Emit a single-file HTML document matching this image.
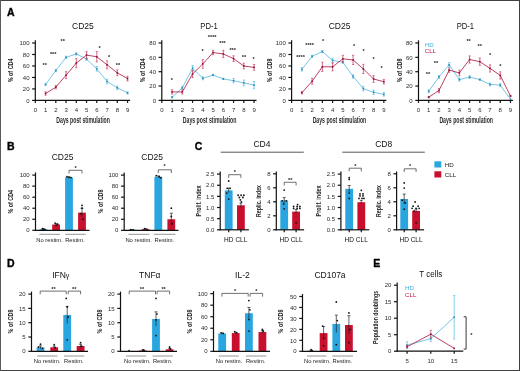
<!DOCTYPE html>
<html><head><meta charset="utf-8"><style>
html,body{margin:0;padding:0;background:#fff;}
body{width:520px;height:371px;overflow:hidden;}
svg{display:block;font-family:"Liberation Sans",sans-serif;filter:blur(0.35px);}
</style></head><body>
<svg width="520" height="371" viewBox="0 0 520 371">
<rect x="0" y="0" width="520" height="371" fill="#fff"/>
<line x1="35.30" y1="100.90" x2="35.30" y2="40.30" stroke="#111" stroke-width="1.2"/>
<line x1="32.10" y1="100.40" x2="35.30" y2="100.40" stroke="#111" stroke-width="1.2"/>
<text x="29.50" y="102.56" font-size="6" text-anchor="end" fill="#2a2a2a" font-weight="normal" >0</text>
<line x1="32.10" y1="88.92" x2="35.30" y2="88.92" stroke="#111" stroke-width="1.2"/>
<text x="29.50" y="91.08" font-size="6" text-anchor="end" fill="#2a2a2a" font-weight="normal" >20</text>
<line x1="32.10" y1="77.44" x2="35.30" y2="77.44" stroke="#111" stroke-width="1.2"/>
<text x="29.50" y="79.60" font-size="6" text-anchor="end" fill="#2a2a2a" font-weight="normal" >40</text>
<line x1="32.10" y1="65.96" x2="35.30" y2="65.96" stroke="#111" stroke-width="1.2"/>
<text x="29.50" y="68.12" font-size="6" text-anchor="end" fill="#2a2a2a" font-weight="normal" >60</text>
<line x1="32.10" y1="54.48" x2="35.30" y2="54.48" stroke="#111" stroke-width="1.2"/>
<text x="29.50" y="56.64" font-size="6" text-anchor="end" fill="#2a2a2a" font-weight="normal" >80</text>
<line x1="32.10" y1="43.00" x2="35.30" y2="43.00" stroke="#111" stroke-width="1.2"/>
<text x="29.50" y="45.16" font-size="6" text-anchor="end" fill="#2a2a2a" font-weight="normal" >100</text>
<line x1="34.80" y1="100.40" x2="130.05" y2="100.40" stroke="#111" stroke-width="1.2"/>
<line x1="35.30" y1="100.40" x2="35.30" y2="102.90" stroke="#111" stroke-width="1.2"/>
<text x="35.30" y="111.90" font-size="6" text-anchor="middle" fill="#2a2a2a" font-weight="normal" >0</text>
<line x1="45.55" y1="100.40" x2="45.55" y2="102.90" stroke="#111" stroke-width="1.2"/>
<text x="45.55" y="111.90" font-size="6" text-anchor="middle" fill="#2a2a2a" font-weight="normal" >1</text>
<line x1="55.80" y1="100.40" x2="55.80" y2="102.90" stroke="#111" stroke-width="1.2"/>
<text x="55.80" y="111.90" font-size="6" text-anchor="middle" fill="#2a2a2a" font-weight="normal" >2</text>
<line x1="66.05" y1="100.40" x2="66.05" y2="102.90" stroke="#111" stroke-width="1.2"/>
<text x="66.05" y="111.90" font-size="6" text-anchor="middle" fill="#2a2a2a" font-weight="normal" >3</text>
<line x1="76.30" y1="100.40" x2="76.30" y2="102.90" stroke="#111" stroke-width="1.2"/>
<text x="76.30" y="111.90" font-size="6" text-anchor="middle" fill="#2a2a2a" font-weight="normal" >4</text>
<line x1="86.55" y1="100.40" x2="86.55" y2="102.90" stroke="#111" stroke-width="1.2"/>
<text x="86.55" y="111.90" font-size="6" text-anchor="middle" fill="#2a2a2a" font-weight="normal" >5</text>
<line x1="96.80" y1="100.40" x2="96.80" y2="102.90" stroke="#111" stroke-width="1.2"/>
<text x="96.80" y="111.90" font-size="6" text-anchor="middle" fill="#2a2a2a" font-weight="normal" >6</text>
<line x1="107.05" y1="100.40" x2="107.05" y2="102.90" stroke="#111" stroke-width="1.2"/>
<text x="107.05" y="111.90" font-size="6" text-anchor="middle" fill="#2a2a2a" font-weight="normal" >7</text>
<line x1="117.30" y1="100.40" x2="117.30" y2="102.90" stroke="#111" stroke-width="1.2"/>
<text x="117.30" y="111.90" font-size="6" text-anchor="middle" fill="#2a2a2a" font-weight="normal" >8</text>
<line x1="127.55" y1="100.40" x2="127.55" y2="102.90" stroke="#111" stroke-width="1.2"/>
<text x="127.55" y="111.90" font-size="6" text-anchor="middle" fill="#2a2a2a" font-weight="normal" >9</text>
<line x1="45.55" y1="83.35" x2="45.55" y2="85.65" stroke="#5BBCE4" stroke-width="0.8"/>
<line x1="44.45" y1="83.35" x2="46.65" y2="83.35" stroke="#5BBCE4" stroke-width="0.7"/>
<line x1="44.45" y1="85.65" x2="46.65" y2="85.65" stroke="#5BBCE4" stroke-width="0.7"/>
<line x1="55.80" y1="69.40" x2="55.80" y2="71.70" stroke="#5BBCE4" stroke-width="0.8"/>
<line x1="54.70" y1="69.40" x2="56.90" y2="69.40" stroke="#5BBCE4" stroke-width="0.7"/>
<line x1="54.70" y1="71.70" x2="56.90" y2="71.70" stroke="#5BBCE4" stroke-width="0.7"/>
<line x1="66.05" y1="56.20" x2="66.05" y2="58.50" stroke="#5BBCE4" stroke-width="0.8"/>
<line x1="64.95" y1="56.20" x2="67.15" y2="56.20" stroke="#5BBCE4" stroke-width="0.7"/>
<line x1="64.95" y1="58.50" x2="67.15" y2="58.50" stroke="#5BBCE4" stroke-width="0.7"/>
<line x1="76.30" y1="52.76" x2="76.30" y2="55.05" stroke="#5BBCE4" stroke-width="0.8"/>
<line x1="75.20" y1="52.76" x2="77.40" y2="52.76" stroke="#5BBCE4" stroke-width="0.7"/>
<line x1="75.20" y1="55.05" x2="77.40" y2="55.05" stroke="#5BBCE4" stroke-width="0.7"/>
<line x1="86.55" y1="57.92" x2="86.55" y2="60.22" stroke="#5BBCE4" stroke-width="0.8"/>
<line x1="85.45" y1="57.92" x2="87.65" y2="57.92" stroke="#5BBCE4" stroke-width="0.7"/>
<line x1="85.45" y1="60.22" x2="87.65" y2="60.22" stroke="#5BBCE4" stroke-width="0.7"/>
<line x1="96.80" y1="66.53" x2="96.80" y2="71.13" stroke="#5BBCE4" stroke-width="0.8"/>
<line x1="95.70" y1="66.53" x2="97.90" y2="66.53" stroke="#5BBCE4" stroke-width="0.7"/>
<line x1="95.70" y1="71.13" x2="97.90" y2="71.13" stroke="#5BBCE4" stroke-width="0.7"/>
<line x1="107.05" y1="79.16" x2="107.05" y2="83.75" stroke="#5BBCE4" stroke-width="0.8"/>
<line x1="105.95" y1="79.16" x2="108.15" y2="79.16" stroke="#5BBCE4" stroke-width="0.7"/>
<line x1="105.95" y1="83.75" x2="108.15" y2="83.75" stroke="#5BBCE4" stroke-width="0.7"/>
<line x1="117.30" y1="86.05" x2="117.30" y2="89.49" stroke="#5BBCE4" stroke-width="0.8"/>
<line x1="116.20" y1="86.05" x2="118.40" y2="86.05" stroke="#5BBCE4" stroke-width="0.7"/>
<line x1="116.20" y1="89.49" x2="118.40" y2="89.49" stroke="#5BBCE4" stroke-width="0.7"/>
<line x1="127.55" y1="91.79" x2="127.55" y2="94.09" stroke="#5BBCE4" stroke-width="0.8"/>
<line x1="126.45" y1="91.79" x2="128.65" y2="91.79" stroke="#5BBCE4" stroke-width="0.7"/>
<line x1="126.45" y1="94.09" x2="128.65" y2="94.09" stroke="#5BBCE4" stroke-width="0.7"/>
<polyline points="45.55,84.50 55.80,70.55 66.05,57.35 76.30,53.91 86.55,59.07 96.80,68.83 107.05,81.46 117.30,87.77 127.55,92.94" fill="none" stroke="#5DBCE0" stroke-width="0.85"/>
<rect x="44.75" y="83.70" width="1.60" height="1.60" fill="#2E88AE"/>
<rect x="55.00" y="69.75" width="1.60" height="1.60" fill="#2E88AE"/>
<rect x="65.25" y="56.55" width="1.60" height="1.60" fill="#2E88AE"/>
<rect x="75.50" y="53.11" width="1.60" height="1.60" fill="#2E88AE"/>
<rect x="85.75" y="58.27" width="1.60" height="1.60" fill="#2E88AE"/>
<rect x="96.00" y="68.03" width="1.60" height="1.60" fill="#2E88AE"/>
<rect x="106.25" y="80.66" width="1.60" height="1.60" fill="#2E88AE"/>
<rect x="116.50" y="86.97" width="1.60" height="1.60" fill="#2E88AE"/>
<rect x="126.75" y="92.14" width="1.60" height="1.60" fill="#2E88AE"/>
<line x1="45.55" y1="91.79" x2="45.55" y2="95.23" stroke="#CC4467" stroke-width="0.8"/>
<line x1="44.45" y1="91.79" x2="46.65" y2="91.79" stroke="#CC4467" stroke-width="0.7"/>
<line x1="44.45" y1="95.23" x2="46.65" y2="95.23" stroke="#CC4467" stroke-width="0.7"/>
<line x1="55.80" y1="85.48" x2="55.80" y2="88.92" stroke="#CC4467" stroke-width="0.8"/>
<line x1="54.70" y1="85.48" x2="56.90" y2="85.48" stroke="#CC4467" stroke-width="0.7"/>
<line x1="54.70" y1="88.92" x2="56.90" y2="88.92" stroke="#CC4467" stroke-width="0.7"/>
<line x1="66.05" y1="71.70" x2="66.05" y2="78.59" stroke="#CC4467" stroke-width="0.8"/>
<line x1="64.95" y1="71.70" x2="67.15" y2="71.70" stroke="#CC4467" stroke-width="0.7"/>
<line x1="64.95" y1="78.59" x2="67.15" y2="78.59" stroke="#CC4467" stroke-width="0.7"/>
<line x1="76.30" y1="58.50" x2="76.30" y2="67.68" stroke="#CC4467" stroke-width="0.8"/>
<line x1="75.20" y1="58.50" x2="77.40" y2="58.50" stroke="#CC4467" stroke-width="0.7"/>
<line x1="75.20" y1="67.68" x2="77.40" y2="67.68" stroke="#CC4467" stroke-width="0.7"/>
<line x1="86.55" y1="51.61" x2="86.55" y2="58.50" stroke="#CC4467" stroke-width="0.8"/>
<line x1="85.45" y1="51.61" x2="87.65" y2="51.61" stroke="#CC4467" stroke-width="0.7"/>
<line x1="85.45" y1="58.50" x2="87.65" y2="58.50" stroke="#CC4467" stroke-width="0.7"/>
<line x1="96.80" y1="51.61" x2="96.80" y2="61.94" stroke="#CC4467" stroke-width="0.8"/>
<line x1="95.70" y1="51.61" x2="97.90" y2="51.61" stroke="#CC4467" stroke-width="0.7"/>
<line x1="95.70" y1="61.94" x2="97.90" y2="61.94" stroke="#CC4467" stroke-width="0.7"/>
<line x1="107.05" y1="60.79" x2="107.05" y2="68.83" stroke="#CC4467" stroke-width="0.8"/>
<line x1="105.95" y1="60.79" x2="108.15" y2="60.79" stroke="#CC4467" stroke-width="0.7"/>
<line x1="105.95" y1="68.83" x2="108.15" y2="68.83" stroke="#CC4467" stroke-width="0.7"/>
<line x1="117.30" y1="69.98" x2="117.30" y2="75.72" stroke="#CC4467" stroke-width="0.8"/>
<line x1="116.20" y1="69.98" x2="118.40" y2="69.98" stroke="#CC4467" stroke-width="0.7"/>
<line x1="116.20" y1="75.72" x2="118.40" y2="75.72" stroke="#CC4467" stroke-width="0.7"/>
<line x1="127.55" y1="76.29" x2="127.55" y2="80.88" stroke="#CC4467" stroke-width="0.8"/>
<line x1="126.45" y1="76.29" x2="128.65" y2="76.29" stroke="#CC4467" stroke-width="0.7"/>
<line x1="126.45" y1="80.88" x2="128.65" y2="80.88" stroke="#CC4467" stroke-width="0.7"/>
<polyline points="45.55,93.51 55.80,87.20 66.05,75.14 76.30,63.09 86.55,55.05 96.80,56.78 107.05,64.81 117.30,72.85 127.55,78.59" fill="none" stroke="#B51F48" stroke-width="0.85"/>
<rect x="44.75" y="92.71" width="1.60" height="1.60" fill="#8A1434"/>
<rect x="55.00" y="86.40" width="1.60" height="1.60" fill="#8A1434"/>
<rect x="65.25" y="74.34" width="1.60" height="1.60" fill="#8A1434"/>
<rect x="75.50" y="62.29" width="1.60" height="1.60" fill="#8A1434"/>
<rect x="85.75" y="54.25" width="1.60" height="1.60" fill="#8A1434"/>
<rect x="96.00" y="55.98" width="1.60" height="1.60" fill="#8A1434"/>
<rect x="106.25" y="64.01" width="1.60" height="1.60" fill="#8A1434"/>
<rect x="116.50" y="72.05" width="1.60" height="1.60" fill="#8A1434"/>
<rect x="126.75" y="77.79" width="1.60" height="1.60" fill="#8A1434"/>
<text x="44.70" y="67.44" font-size="5.6" text-anchor="middle" fill="#222" font-weight="bold">**</text>
<text x="53.20" y="55.94" font-size="5.6" text-anchor="middle" fill="#222" font-weight="bold">***</text>
<text x="62.70" y="43.14" font-size="5.6" text-anchor="middle" fill="#222" font-weight="bold">**</text>
<text x="99.70" y="50.34" font-size="5.6" text-anchor="middle" fill="#222" font-weight="bold">*</text>
<text x="109.00" y="58.84" font-size="5.6" text-anchor="middle" fill="#222" font-weight="bold">*</text>
<text x="117.90" y="67.44" font-size="5.6" text-anchor="middle" fill="#222" font-weight="bold">**</text>
<text x="82.90" y="28.80" font-size="8.5" text-anchor="middle" fill="#111" font-weight="normal" >CD25</text>
<text transform="translate(10.60,70.40) rotate(-90)" x="0" y="2.70" font-size="7.5" text-anchor="middle" fill="#1e1e1e" font-weight="bold" textLength="23.8" lengthAdjust="spacingAndGlyphs">% of CD4</text>
<text x="83.12" y="123.40" font-size="8.6" text-anchor="middle" fill="#2a2a2a" font-weight="bold" textLength="53.6" lengthAdjust="spacingAndGlyphs" >Days post stimulation</text>
<line x1="161.80" y1="100.90" x2="161.80" y2="40.30" stroke="#111" stroke-width="1.2"/>
<line x1="158.60" y1="100.40" x2="161.80" y2="100.40" stroke="#111" stroke-width="1.2"/>
<text x="156.00" y="102.56" font-size="6" text-anchor="end" fill="#2a2a2a" font-weight="normal" >0</text>
<line x1="158.60" y1="86.05" x2="161.80" y2="86.05" stroke="#111" stroke-width="1.2"/>
<text x="156.00" y="88.21" font-size="6" text-anchor="end" fill="#2a2a2a" font-weight="normal" >20</text>
<line x1="158.60" y1="71.70" x2="161.80" y2="71.70" stroke="#111" stroke-width="1.2"/>
<text x="156.00" y="73.86" font-size="6" text-anchor="end" fill="#2a2a2a" font-weight="normal" >40</text>
<line x1="158.60" y1="57.35" x2="161.80" y2="57.35" stroke="#111" stroke-width="1.2"/>
<text x="156.00" y="59.51" font-size="6" text-anchor="end" fill="#2a2a2a" font-weight="normal" >60</text>
<line x1="158.60" y1="43.00" x2="161.80" y2="43.00" stroke="#111" stroke-width="1.2"/>
<text x="156.00" y="45.16" font-size="6" text-anchor="end" fill="#2a2a2a" font-weight="normal" >80</text>
<line x1="161.30" y1="100.40" x2="256.55" y2="100.40" stroke="#111" stroke-width="1.2"/>
<line x1="161.80" y1="100.40" x2="161.80" y2="102.90" stroke="#111" stroke-width="1.2"/>
<text x="161.80" y="111.90" font-size="6" text-anchor="middle" fill="#2a2a2a" font-weight="normal" >0</text>
<line x1="172.05" y1="100.40" x2="172.05" y2="102.90" stroke="#111" stroke-width="1.2"/>
<text x="172.05" y="111.90" font-size="6" text-anchor="middle" fill="#2a2a2a" font-weight="normal" >1</text>
<line x1="182.30" y1="100.40" x2="182.30" y2="102.90" stroke="#111" stroke-width="1.2"/>
<text x="182.30" y="111.90" font-size="6" text-anchor="middle" fill="#2a2a2a" font-weight="normal" >2</text>
<line x1="192.55" y1="100.40" x2="192.55" y2="102.90" stroke="#111" stroke-width="1.2"/>
<text x="192.55" y="111.90" font-size="6" text-anchor="middle" fill="#2a2a2a" font-weight="normal" >3</text>
<line x1="202.80" y1="100.40" x2="202.80" y2="102.90" stroke="#111" stroke-width="1.2"/>
<text x="202.80" y="111.90" font-size="6" text-anchor="middle" fill="#2a2a2a" font-weight="normal" >4</text>
<line x1="213.05" y1="100.40" x2="213.05" y2="102.90" stroke="#111" stroke-width="1.2"/>
<text x="213.05" y="111.90" font-size="6" text-anchor="middle" fill="#2a2a2a" font-weight="normal" >5</text>
<line x1="223.30" y1="100.40" x2="223.30" y2="102.90" stroke="#111" stroke-width="1.2"/>
<text x="223.30" y="111.90" font-size="6" text-anchor="middle" fill="#2a2a2a" font-weight="normal" >6</text>
<line x1="233.55" y1="100.40" x2="233.55" y2="102.90" stroke="#111" stroke-width="1.2"/>
<text x="233.55" y="111.90" font-size="6" text-anchor="middle" fill="#2a2a2a" font-weight="normal" >7</text>
<line x1="243.80" y1="100.40" x2="243.80" y2="102.90" stroke="#111" stroke-width="1.2"/>
<text x="243.80" y="111.90" font-size="6" text-anchor="middle" fill="#2a2a2a" font-weight="normal" >8</text>
<line x1="254.05" y1="100.40" x2="254.05" y2="102.90" stroke="#111" stroke-width="1.2"/>
<text x="254.05" y="111.90" font-size="6" text-anchor="middle" fill="#2a2a2a" font-weight="normal" >9</text>
<line x1="172.05" y1="96.53" x2="172.05" y2="97.96" stroke="#5BBCE4" stroke-width="0.8"/>
<line x1="170.95" y1="96.53" x2="173.15" y2="96.53" stroke="#5BBCE4" stroke-width="0.7"/>
<line x1="170.95" y1="97.96" x2="173.15" y2="97.96" stroke="#5BBCE4" stroke-width="0.7"/>
<line x1="182.30" y1="86.34" x2="182.30" y2="89.21" stroke="#5BBCE4" stroke-width="0.8"/>
<line x1="181.20" y1="86.34" x2="183.40" y2="86.34" stroke="#5BBCE4" stroke-width="0.7"/>
<line x1="181.20" y1="89.21" x2="183.40" y2="89.21" stroke="#5BBCE4" stroke-width="0.7"/>
<line x1="192.55" y1="65.46" x2="192.55" y2="71.20" stroke="#5BBCE4" stroke-width="0.8"/>
<line x1="191.45" y1="65.46" x2="193.65" y2="65.46" stroke="#5BBCE4" stroke-width="0.7"/>
<line x1="191.45" y1="71.20" x2="193.65" y2="71.20" stroke="#5BBCE4" stroke-width="0.7"/>
<line x1="202.80" y1="76.87" x2="202.80" y2="79.74" stroke="#5BBCE4" stroke-width="0.8"/>
<line x1="201.70" y1="76.87" x2="203.90" y2="76.87" stroke="#5BBCE4" stroke-width="0.7"/>
<line x1="201.70" y1="79.74" x2="203.90" y2="79.74" stroke="#5BBCE4" stroke-width="0.7"/>
<line x1="213.05" y1="74.35" x2="213.05" y2="75.79" stroke="#5BBCE4" stroke-width="0.8"/>
<line x1="211.95" y1="74.35" x2="214.15" y2="74.35" stroke="#5BBCE4" stroke-width="0.7"/>
<line x1="211.95" y1="75.79" x2="214.15" y2="75.79" stroke="#5BBCE4" stroke-width="0.7"/>
<line x1="223.30" y1="78.16" x2="223.30" y2="79.59" stroke="#5BBCE4" stroke-width="0.8"/>
<line x1="222.20" y1="78.16" x2="224.40" y2="78.16" stroke="#5BBCE4" stroke-width="0.7"/>
<line x1="222.20" y1="79.59" x2="224.40" y2="79.59" stroke="#5BBCE4" stroke-width="0.7"/>
<line x1="233.55" y1="78.59" x2="233.55" y2="82.89" stroke="#5BBCE4" stroke-width="0.8"/>
<line x1="232.45" y1="78.59" x2="234.65" y2="78.59" stroke="#5BBCE4" stroke-width="0.7"/>
<line x1="232.45" y1="82.89" x2="234.65" y2="82.89" stroke="#5BBCE4" stroke-width="0.7"/>
<line x1="243.80" y1="80.02" x2="243.80" y2="85.76" stroke="#5BBCE4" stroke-width="0.8"/>
<line x1="242.70" y1="80.02" x2="244.90" y2="80.02" stroke="#5BBCE4" stroke-width="0.7"/>
<line x1="242.70" y1="85.76" x2="244.90" y2="85.76" stroke="#5BBCE4" stroke-width="0.7"/>
<line x1="254.05" y1="81.53" x2="254.05" y2="88.70" stroke="#5BBCE4" stroke-width="0.8"/>
<line x1="252.95" y1="81.53" x2="255.15" y2="81.53" stroke="#5BBCE4" stroke-width="0.7"/>
<line x1="252.95" y1="88.70" x2="255.15" y2="88.70" stroke="#5BBCE4" stroke-width="0.7"/>
<polyline points="172.05,97.24 182.30,87.77 192.55,68.33 202.80,78.30 213.05,75.07 223.30,78.88 233.55,80.74 243.80,82.89 254.05,85.12" fill="none" stroke="#5DBCE0" stroke-width="0.85"/>
<rect x="171.25" y="96.44" width="1.60" height="1.60" fill="#2E88AE"/>
<rect x="181.50" y="86.97" width="1.60" height="1.60" fill="#2E88AE"/>
<rect x="191.75" y="67.53" width="1.60" height="1.60" fill="#2E88AE"/>
<rect x="202.00" y="77.50" width="1.60" height="1.60" fill="#2E88AE"/>
<rect x="212.25" y="74.27" width="1.60" height="1.60" fill="#2E88AE"/>
<rect x="222.50" y="78.08" width="1.60" height="1.60" fill="#2E88AE"/>
<rect x="232.75" y="79.94" width="1.60" height="1.60" fill="#2E88AE"/>
<rect x="243.00" y="82.09" width="1.60" height="1.60" fill="#2E88AE"/>
<rect x="253.25" y="84.32" width="1.60" height="1.60" fill="#2E88AE"/>
<line x1="172.05" y1="89.78" x2="172.05" y2="94.09" stroke="#CC4467" stroke-width="0.8"/>
<line x1="170.95" y1="89.78" x2="173.15" y2="89.78" stroke="#CC4467" stroke-width="0.7"/>
<line x1="170.95" y1="94.09" x2="173.15" y2="94.09" stroke="#CC4467" stroke-width="0.7"/>
<line x1="182.30" y1="89.78" x2="182.30" y2="94.09" stroke="#CC4467" stroke-width="0.8"/>
<line x1="181.20" y1="89.78" x2="183.40" y2="89.78" stroke="#CC4467" stroke-width="0.7"/>
<line x1="181.20" y1="94.09" x2="183.40" y2="94.09" stroke="#CC4467" stroke-width="0.7"/>
<line x1="192.55" y1="70.41" x2="192.55" y2="77.58" stroke="#CC4467" stroke-width="0.8"/>
<line x1="191.45" y1="70.41" x2="193.65" y2="70.41" stroke="#CC4467" stroke-width="0.7"/>
<line x1="191.45" y1="77.58" x2="193.65" y2="77.58" stroke="#CC4467" stroke-width="0.7"/>
<line x1="202.80" y1="59.65" x2="202.80" y2="68.26" stroke="#CC4467" stroke-width="0.8"/>
<line x1="201.70" y1="59.65" x2="203.90" y2="59.65" stroke="#CC4467" stroke-width="0.7"/>
<line x1="201.70" y1="68.26" x2="203.90" y2="68.26" stroke="#CC4467" stroke-width="0.7"/>
<line x1="213.05" y1="50.39" x2="213.05" y2="54.70" stroke="#CC4467" stroke-width="0.8"/>
<line x1="211.95" y1="50.39" x2="214.15" y2="50.39" stroke="#CC4467" stroke-width="0.7"/>
<line x1="211.95" y1="54.70" x2="214.15" y2="54.70" stroke="#CC4467" stroke-width="0.7"/>
<line x1="223.30" y1="50.39" x2="223.30" y2="57.57" stroke="#CC4467" stroke-width="0.8"/>
<line x1="222.20" y1="50.39" x2="224.40" y2="50.39" stroke="#CC4467" stroke-width="0.7"/>
<line x1="222.20" y1="57.57" x2="224.40" y2="57.57" stroke="#CC4467" stroke-width="0.7"/>
<line x1="233.55" y1="55.77" x2="233.55" y2="61.51" stroke="#CC4467" stroke-width="0.8"/>
<line x1="232.45" y1="55.77" x2="234.65" y2="55.77" stroke="#CC4467" stroke-width="0.7"/>
<line x1="232.45" y1="61.51" x2="234.65" y2="61.51" stroke="#CC4467" stroke-width="0.7"/>
<line x1="243.80" y1="63.16" x2="243.80" y2="68.90" stroke="#CC4467" stroke-width="0.8"/>
<line x1="242.70" y1="63.16" x2="244.90" y2="63.16" stroke="#CC4467" stroke-width="0.7"/>
<line x1="242.70" y1="68.90" x2="244.90" y2="68.90" stroke="#CC4467" stroke-width="0.7"/>
<line x1="254.05" y1="64.53" x2="254.05" y2="70.27" stroke="#CC4467" stroke-width="0.8"/>
<line x1="252.95" y1="64.53" x2="255.15" y2="64.53" stroke="#CC4467" stroke-width="0.7"/>
<line x1="252.95" y1="70.27" x2="255.15" y2="70.27" stroke="#CC4467" stroke-width="0.7"/>
<polyline points="172.05,91.93 182.30,91.93 192.55,74.00 202.80,63.95 213.05,52.54 223.30,53.98 233.55,58.64 243.80,66.03 254.05,67.40" fill="none" stroke="#B51F48" stroke-width="0.85"/>
<rect x="171.25" y="91.13" width="1.60" height="1.60" fill="#8A1434"/>
<rect x="181.50" y="91.13" width="1.60" height="1.60" fill="#8A1434"/>
<rect x="191.75" y="73.20" width="1.60" height="1.60" fill="#8A1434"/>
<rect x="202.00" y="63.15" width="1.60" height="1.60" fill="#8A1434"/>
<rect x="212.25" y="51.74" width="1.60" height="1.60" fill="#8A1434"/>
<rect x="222.50" y="53.18" width="1.60" height="1.60" fill="#8A1434"/>
<rect x="232.75" y="57.84" width="1.60" height="1.60" fill="#8A1434"/>
<rect x="243.00" y="65.23" width="1.60" height="1.60" fill="#8A1434"/>
<rect x="253.25" y="66.60" width="1.60" height="1.60" fill="#8A1434"/>
<text x="171.80" y="81.54" font-size="5.6" text-anchor="middle" fill="#222" font-weight="bold">*</text>
<text x="202.70" y="52.54" font-size="5.6" text-anchor="middle" fill="#222" font-weight="bold">*</text>
<text x="212.20" y="39.24" font-size="5.6" text-anchor="middle" fill="#222" font-weight="bold">****</text>
<text x="222.50" y="45.44" font-size="5.6" text-anchor="middle" fill="#222" font-weight="bold">***</text>
<text x="232.70" y="51.64" font-size="5.6" text-anchor="middle" fill="#222" font-weight="bold">***</text>
<text x="243.90" y="59.44" font-size="5.6" text-anchor="middle" fill="#222" font-weight="bold">**</text>
<text x="253.50" y="60.94" font-size="5.6" text-anchor="middle" fill="#222" font-weight="bold">*</text>
<text x="209.05" y="28.80" font-size="8.5" text-anchor="middle" fill="#111" font-weight="normal" textLength="17.4" lengthAdjust="spacingAndGlyphs" >PD-1</text>
<text transform="translate(142.00,70.40) rotate(-90)" x="0" y="2.70" font-size="7.5" text-anchor="middle" fill="#1e1e1e" font-weight="bold" textLength="23.8" lengthAdjust="spacingAndGlyphs">% of CD4</text>
<text x="209.62" y="123.40" font-size="8.6" text-anchor="middle" fill="#2a2a2a" font-weight="bold" textLength="53.6" lengthAdjust="spacingAndGlyphs" >Days post stimulation</text>
<line x1="291.60" y1="100.90" x2="291.60" y2="40.30" stroke="#111" stroke-width="1.2"/>
<line x1="288.40" y1="100.40" x2="291.60" y2="100.40" stroke="#111" stroke-width="1.2"/>
<text x="285.80" y="102.56" font-size="6" text-anchor="end" fill="#2a2a2a" font-weight="normal" >0</text>
<line x1="288.40" y1="88.92" x2="291.60" y2="88.92" stroke="#111" stroke-width="1.2"/>
<text x="285.80" y="91.08" font-size="6" text-anchor="end" fill="#2a2a2a" font-weight="normal" >20</text>
<line x1="288.40" y1="77.44" x2="291.60" y2="77.44" stroke="#111" stroke-width="1.2"/>
<text x="285.80" y="79.60" font-size="6" text-anchor="end" fill="#2a2a2a" font-weight="normal" >40</text>
<line x1="288.40" y1="65.96" x2="291.60" y2="65.96" stroke="#111" stroke-width="1.2"/>
<text x="285.80" y="68.12" font-size="6" text-anchor="end" fill="#2a2a2a" font-weight="normal" >60</text>
<line x1="288.40" y1="54.48" x2="291.60" y2="54.48" stroke="#111" stroke-width="1.2"/>
<text x="285.80" y="56.64" font-size="6" text-anchor="end" fill="#2a2a2a" font-weight="normal" >80</text>
<line x1="288.40" y1="43.00" x2="291.60" y2="43.00" stroke="#111" stroke-width="1.2"/>
<text x="285.80" y="45.16" font-size="6" text-anchor="end" fill="#2a2a2a" font-weight="normal" >100</text>
<line x1="291.10" y1="100.40" x2="386.35" y2="100.40" stroke="#111" stroke-width="1.2"/>
<line x1="291.60" y1="100.40" x2="291.60" y2="102.90" stroke="#111" stroke-width="1.2"/>
<text x="291.60" y="111.90" font-size="6" text-anchor="middle" fill="#2a2a2a" font-weight="normal" >0</text>
<line x1="301.85" y1="100.40" x2="301.85" y2="102.90" stroke="#111" stroke-width="1.2"/>
<text x="301.85" y="111.90" font-size="6" text-anchor="middle" fill="#2a2a2a" font-weight="normal" >1</text>
<line x1="312.10" y1="100.40" x2="312.10" y2="102.90" stroke="#111" stroke-width="1.2"/>
<text x="312.10" y="111.90" font-size="6" text-anchor="middle" fill="#2a2a2a" font-weight="normal" >2</text>
<line x1="322.35" y1="100.40" x2="322.35" y2="102.90" stroke="#111" stroke-width="1.2"/>
<text x="322.35" y="111.90" font-size="6" text-anchor="middle" fill="#2a2a2a" font-weight="normal" >3</text>
<line x1="332.60" y1="100.40" x2="332.60" y2="102.90" stroke="#111" stroke-width="1.2"/>
<text x="332.60" y="111.90" font-size="6" text-anchor="middle" fill="#2a2a2a" font-weight="normal" >4</text>
<line x1="342.85" y1="100.40" x2="342.85" y2="102.90" stroke="#111" stroke-width="1.2"/>
<text x="342.85" y="111.90" font-size="6" text-anchor="middle" fill="#2a2a2a" font-weight="normal" >5</text>
<line x1="353.10" y1="100.40" x2="353.10" y2="102.90" stroke="#111" stroke-width="1.2"/>
<text x="353.10" y="111.90" font-size="6" text-anchor="middle" fill="#2a2a2a" font-weight="normal" >6</text>
<line x1="363.35" y1="100.40" x2="363.35" y2="102.90" stroke="#111" stroke-width="1.2"/>
<text x="363.35" y="111.90" font-size="6" text-anchor="middle" fill="#2a2a2a" font-weight="normal" >7</text>
<line x1="373.60" y1="100.40" x2="373.60" y2="102.90" stroke="#111" stroke-width="1.2"/>
<text x="373.60" y="111.90" font-size="6" text-anchor="middle" fill="#2a2a2a" font-weight="normal" >8</text>
<line x1="383.85" y1="100.40" x2="383.85" y2="102.90" stroke="#111" stroke-width="1.2"/>
<text x="383.85" y="111.90" font-size="6" text-anchor="middle" fill="#2a2a2a" font-weight="normal" >9</text>
<line x1="301.85" y1="67.68" x2="301.85" y2="71.13" stroke="#5BBCE4" stroke-width="0.8"/>
<line x1="300.75" y1="67.68" x2="302.95" y2="67.68" stroke="#5BBCE4" stroke-width="0.7"/>
<line x1="300.75" y1="71.13" x2="302.95" y2="71.13" stroke="#5BBCE4" stroke-width="0.7"/>
<line x1="312.10" y1="55.17" x2="312.10" y2="57.46" stroke="#5BBCE4" stroke-width="0.8"/>
<line x1="311.00" y1="55.17" x2="313.20" y2="55.17" stroke="#5BBCE4" stroke-width="0.7"/>
<line x1="311.00" y1="57.46" x2="313.20" y2="57.46" stroke="#5BBCE4" stroke-width="0.7"/>
<line x1="322.35" y1="50.46" x2="322.35" y2="52.76" stroke="#5BBCE4" stroke-width="0.8"/>
<line x1="321.25" y1="50.46" x2="323.45" y2="50.46" stroke="#5BBCE4" stroke-width="0.7"/>
<line x1="321.25" y1="52.76" x2="323.45" y2="52.76" stroke="#5BBCE4" stroke-width="0.7"/>
<line x1="332.60" y1="58.21" x2="332.60" y2="62.80" stroke="#5BBCE4" stroke-width="0.8"/>
<line x1="331.50" y1="58.21" x2="333.70" y2="58.21" stroke="#5BBCE4" stroke-width="0.7"/>
<line x1="331.50" y1="62.80" x2="333.70" y2="62.80" stroke="#5BBCE4" stroke-width="0.7"/>
<line x1="342.85" y1="61.08" x2="342.85" y2="63.38" stroke="#5BBCE4" stroke-width="0.8"/>
<line x1="341.75" y1="61.08" x2="343.95" y2="61.08" stroke="#5BBCE4" stroke-width="0.7"/>
<line x1="341.75" y1="63.38" x2="343.95" y2="63.38" stroke="#5BBCE4" stroke-width="0.7"/>
<line x1="353.10" y1="74.74" x2="353.10" y2="78.19" stroke="#5BBCE4" stroke-width="0.8"/>
<line x1="352.00" y1="74.74" x2="354.20" y2="74.74" stroke="#5BBCE4" stroke-width="0.7"/>
<line x1="352.00" y1="78.19" x2="354.20" y2="78.19" stroke="#5BBCE4" stroke-width="0.7"/>
<line x1="363.35" y1="86.39" x2="363.35" y2="90.99" stroke="#5BBCE4" stroke-width="0.8"/>
<line x1="362.25" y1="86.39" x2="364.45" y2="86.39" stroke="#5BBCE4" stroke-width="0.7"/>
<line x1="362.25" y1="90.99" x2="364.45" y2="90.99" stroke="#5BBCE4" stroke-width="0.7"/>
<line x1="373.60" y1="90.01" x2="373.60" y2="94.60" stroke="#5BBCE4" stroke-width="0.8"/>
<line x1="372.50" y1="90.01" x2="374.70" y2="90.01" stroke="#5BBCE4" stroke-width="0.7"/>
<line x1="372.50" y1="94.60" x2="374.70" y2="94.60" stroke="#5BBCE4" stroke-width="0.7"/>
<line x1="383.85" y1="92.65" x2="383.85" y2="96.09" stroke="#5BBCE4" stroke-width="0.8"/>
<line x1="382.75" y1="92.65" x2="384.95" y2="92.65" stroke="#5BBCE4" stroke-width="0.7"/>
<line x1="382.75" y1="96.09" x2="384.95" y2="96.09" stroke="#5BBCE4" stroke-width="0.7"/>
<polyline points="301.85,69.40 312.10,56.32 322.35,51.61 332.60,60.51 342.85,62.23 353.10,76.46 363.35,88.69 373.60,92.31 383.85,94.37" fill="none" stroke="#5DBCE0" stroke-width="0.85"/>
<rect x="301.05" y="68.60" width="1.60" height="1.60" fill="#2E88AE"/>
<rect x="311.30" y="55.52" width="1.60" height="1.60" fill="#2E88AE"/>
<rect x="321.55" y="50.81" width="1.60" height="1.60" fill="#2E88AE"/>
<rect x="331.80" y="59.71" width="1.60" height="1.60" fill="#2E88AE"/>
<rect x="342.05" y="61.43" width="1.60" height="1.60" fill="#2E88AE"/>
<rect x="352.30" y="75.66" width="1.60" height="1.60" fill="#2E88AE"/>
<rect x="362.55" y="87.89" width="1.60" height="1.60" fill="#2E88AE"/>
<rect x="372.80" y="91.51" width="1.60" height="1.60" fill="#2E88AE"/>
<rect x="383.05" y="93.57" width="1.60" height="1.60" fill="#2E88AE"/>
<line x1="301.85" y1="91.56" x2="301.85" y2="93.86" stroke="#CC4467" stroke-width="0.8"/>
<line x1="300.75" y1="91.56" x2="302.95" y2="91.56" stroke="#CC4467" stroke-width="0.7"/>
<line x1="300.75" y1="93.86" x2="302.95" y2="93.86" stroke="#CC4467" stroke-width="0.7"/>
<line x1="312.10" y1="78.42" x2="312.10" y2="84.16" stroke="#CC4467" stroke-width="0.8"/>
<line x1="311.00" y1="78.42" x2="313.20" y2="78.42" stroke="#CC4467" stroke-width="0.7"/>
<line x1="311.00" y1="84.16" x2="313.20" y2="84.16" stroke="#CC4467" stroke-width="0.7"/>
<line x1="322.35" y1="62.23" x2="322.35" y2="71.41" stroke="#CC4467" stroke-width="0.8"/>
<line x1="321.25" y1="62.23" x2="323.45" y2="62.23" stroke="#CC4467" stroke-width="0.7"/>
<line x1="321.25" y1="71.41" x2="323.45" y2="71.41" stroke="#CC4467" stroke-width="0.7"/>
<line x1="332.60" y1="62.80" x2="332.60" y2="70.84" stroke="#CC4467" stroke-width="0.8"/>
<line x1="331.50" y1="62.80" x2="333.70" y2="62.80" stroke="#CC4467" stroke-width="0.7"/>
<line x1="331.50" y1="70.84" x2="333.70" y2="70.84" stroke="#CC4467" stroke-width="0.7"/>
<line x1="342.85" y1="55.40" x2="342.85" y2="62.29" stroke="#CC4467" stroke-width="0.8"/>
<line x1="341.75" y1="55.40" x2="343.95" y2="55.40" stroke="#CC4467" stroke-width="0.7"/>
<line x1="341.75" y1="62.29" x2="343.95" y2="62.29" stroke="#CC4467" stroke-width="0.7"/>
<line x1="353.10" y1="55.34" x2="353.10" y2="64.53" stroke="#CC4467" stroke-width="0.8"/>
<line x1="352.00" y1="55.34" x2="354.20" y2="55.34" stroke="#CC4467" stroke-width="0.7"/>
<line x1="352.00" y1="64.53" x2="354.20" y2="64.53" stroke="#CC4467" stroke-width="0.7"/>
<line x1="363.35" y1="64.35" x2="363.35" y2="73.54" stroke="#CC4467" stroke-width="0.8"/>
<line x1="362.25" y1="64.35" x2="364.45" y2="64.35" stroke="#CC4467" stroke-width="0.7"/>
<line x1="362.25" y1="73.54" x2="364.45" y2="73.54" stroke="#CC4467" stroke-width="0.7"/>
<line x1="373.60" y1="75.55" x2="373.60" y2="82.43" stroke="#CC4467" stroke-width="0.8"/>
<line x1="372.50" y1="75.55" x2="374.70" y2="75.55" stroke="#CC4467" stroke-width="0.7"/>
<line x1="372.50" y1="82.43" x2="374.70" y2="82.43" stroke="#CC4467" stroke-width="0.7"/>
<line x1="383.85" y1="79.39" x2="383.85" y2="83.98" stroke="#CC4467" stroke-width="0.8"/>
<line x1="382.75" y1="79.39" x2="384.95" y2="79.39" stroke="#CC4467" stroke-width="0.7"/>
<line x1="382.75" y1="83.98" x2="384.95" y2="83.98" stroke="#CC4467" stroke-width="0.7"/>
<polyline points="301.85,92.71 312.10,81.29 322.35,66.82 332.60,66.82 342.85,58.84 353.10,59.93 363.35,68.94 373.60,78.99 383.85,81.69" fill="none" stroke="#B51F48" stroke-width="0.85"/>
<rect x="301.05" y="91.91" width="1.60" height="1.60" fill="#8A1434"/>
<rect x="311.30" y="80.49" width="1.60" height="1.60" fill="#8A1434"/>
<rect x="321.55" y="66.02" width="1.60" height="1.60" fill="#8A1434"/>
<rect x="331.80" y="66.02" width="1.60" height="1.60" fill="#8A1434"/>
<rect x="342.05" y="58.04" width="1.60" height="1.60" fill="#8A1434"/>
<rect x="352.30" y="59.13" width="1.60" height="1.60" fill="#8A1434"/>
<rect x="362.55" y="68.14" width="1.60" height="1.60" fill="#8A1434"/>
<rect x="372.80" y="78.19" width="1.60" height="1.60" fill="#8A1434"/>
<rect x="383.05" y="80.89" width="1.60" height="1.60" fill="#8A1434"/>
<text x="300.50" y="58.84" font-size="5.6" text-anchor="middle" fill="#222" font-weight="bold">****</text>
<text x="309.60" y="46.64" font-size="5.6" text-anchor="middle" fill="#222" font-weight="bold">****</text>
<text x="323.00" y="42.84" font-size="5.6" text-anchor="middle" fill="#222" font-weight="bold">*</text>
<text x="354.00" y="47.64" font-size="5.6" text-anchor="middle" fill="#222" font-weight="bold">*</text>
<text x="363.60" y="53.34" font-size="5.6" text-anchor="middle" fill="#222" font-weight="bold">*</text>
<text x="373.70" y="61.44" font-size="5.6" text-anchor="middle" fill="#222" font-weight="bold">*</text>
<text x="381.50" y="69.84" font-size="5.6" text-anchor="middle" fill="#222" font-weight="bold">*</text>
<text x="339.50" y="28.80" font-size="8.5" text-anchor="middle" fill="#111" font-weight="normal" >CD25</text>
<text transform="translate(269.00,70.40) rotate(-90)" x="0" y="2.70" font-size="7.5" text-anchor="middle" fill="#1e1e1e" font-weight="bold" textLength="23.8" lengthAdjust="spacingAndGlyphs">% of CD8</text>
<text x="339.43" y="123.40" font-size="8.6" text-anchor="middle" fill="#2a2a2a" font-weight="bold" textLength="53.6" lengthAdjust="spacingAndGlyphs" >Days post stimulation</text>
<line x1="418.50" y1="100.90" x2="418.50" y2="40.30" stroke="#111" stroke-width="1.2"/>
<line x1="415.30" y1="100.40" x2="418.50" y2="100.40" stroke="#111" stroke-width="1.2"/>
<text x="412.70" y="102.56" font-size="6" text-anchor="end" fill="#2a2a2a" font-weight="normal" >0</text>
<line x1="415.30" y1="86.05" x2="418.50" y2="86.05" stroke="#111" stroke-width="1.2"/>
<text x="412.70" y="88.21" font-size="6" text-anchor="end" fill="#2a2a2a" font-weight="normal" >20</text>
<line x1="415.30" y1="71.70" x2="418.50" y2="71.70" stroke="#111" stroke-width="1.2"/>
<text x="412.70" y="73.86" font-size="6" text-anchor="end" fill="#2a2a2a" font-weight="normal" >40</text>
<line x1="415.30" y1="57.35" x2="418.50" y2="57.35" stroke="#111" stroke-width="1.2"/>
<text x="412.70" y="59.51" font-size="6" text-anchor="end" fill="#2a2a2a" font-weight="normal" >60</text>
<line x1="415.30" y1="43.00" x2="418.50" y2="43.00" stroke="#111" stroke-width="1.2"/>
<text x="412.70" y="45.16" font-size="6" text-anchor="end" fill="#2a2a2a" font-weight="normal" >80</text>
<line x1="418.00" y1="100.40" x2="512.98" y2="100.40" stroke="#111" stroke-width="1.2"/>
<line x1="418.50" y1="100.40" x2="418.50" y2="102.90" stroke="#111" stroke-width="1.2"/>
<text x="418.50" y="111.90" font-size="6" text-anchor="middle" fill="#2a2a2a" font-weight="normal" >0</text>
<line x1="428.72" y1="100.40" x2="428.72" y2="102.90" stroke="#111" stroke-width="1.2"/>
<text x="428.72" y="111.90" font-size="6" text-anchor="middle" fill="#2a2a2a" font-weight="normal" >1</text>
<line x1="438.94" y1="100.40" x2="438.94" y2="102.90" stroke="#111" stroke-width="1.2"/>
<text x="438.94" y="111.90" font-size="6" text-anchor="middle" fill="#2a2a2a" font-weight="normal" >2</text>
<line x1="449.16" y1="100.40" x2="449.16" y2="102.90" stroke="#111" stroke-width="1.2"/>
<text x="449.16" y="111.90" font-size="6" text-anchor="middle" fill="#2a2a2a" font-weight="normal" >3</text>
<line x1="459.38" y1="100.40" x2="459.38" y2="102.90" stroke="#111" stroke-width="1.2"/>
<text x="459.38" y="111.90" font-size="6" text-anchor="middle" fill="#2a2a2a" font-weight="normal" >4</text>
<line x1="469.60" y1="100.40" x2="469.60" y2="102.90" stroke="#111" stroke-width="1.2"/>
<text x="469.60" y="111.90" font-size="6" text-anchor="middle" fill="#2a2a2a" font-weight="normal" >5</text>
<line x1="479.82" y1="100.40" x2="479.82" y2="102.90" stroke="#111" stroke-width="1.2"/>
<text x="479.82" y="111.90" font-size="6" text-anchor="middle" fill="#2a2a2a" font-weight="normal" >6</text>
<line x1="490.04" y1="100.40" x2="490.04" y2="102.90" stroke="#111" stroke-width="1.2"/>
<text x="490.04" y="111.90" font-size="6" text-anchor="middle" fill="#2a2a2a" font-weight="normal" >7</text>
<line x1="500.26" y1="100.40" x2="500.26" y2="102.90" stroke="#111" stroke-width="1.2"/>
<text x="500.26" y="111.90" font-size="6" text-anchor="middle" fill="#2a2a2a" font-weight="normal" >8</text>
<line x1="510.48" y1="100.40" x2="510.48" y2="102.90" stroke="#111" stroke-width="1.2"/>
<text x="510.48" y="111.90" font-size="6" text-anchor="middle" fill="#2a2a2a" font-weight="normal" >9</text>
<line x1="428.72" y1="89.85" x2="428.72" y2="92.72" stroke="#5BBCE4" stroke-width="0.8"/>
<line x1="427.62" y1="89.85" x2="429.82" y2="89.85" stroke="#5BBCE4" stroke-width="0.7"/>
<line x1="427.62" y1="92.72" x2="429.82" y2="92.72" stroke="#5BBCE4" stroke-width="0.7"/>
<line x1="438.94" y1="75.50" x2="438.94" y2="78.37" stroke="#5BBCE4" stroke-width="0.8"/>
<line x1="437.84" y1="75.50" x2="440.04" y2="75.50" stroke="#5BBCE4" stroke-width="0.7"/>
<line x1="437.84" y1="78.37" x2="440.04" y2="78.37" stroke="#5BBCE4" stroke-width="0.7"/>
<line x1="449.16" y1="62.66" x2="449.16" y2="66.96" stroke="#5BBCE4" stroke-width="0.8"/>
<line x1="448.06" y1="62.66" x2="450.26" y2="62.66" stroke="#5BBCE4" stroke-width="0.7"/>
<line x1="448.06" y1="66.96" x2="450.26" y2="66.96" stroke="#5BBCE4" stroke-width="0.7"/>
<line x1="459.38" y1="78.16" x2="459.38" y2="81.03" stroke="#5BBCE4" stroke-width="0.8"/>
<line x1="458.28" y1="78.16" x2="460.48" y2="78.16" stroke="#5BBCE4" stroke-width="0.7"/>
<line x1="458.28" y1="81.03" x2="460.48" y2="81.03" stroke="#5BBCE4" stroke-width="0.7"/>
<line x1="469.60" y1="75.65" x2="469.60" y2="78.52" stroke="#5BBCE4" stroke-width="0.8"/>
<line x1="468.50" y1="75.65" x2="470.70" y2="75.65" stroke="#5BBCE4" stroke-width="0.7"/>
<line x1="468.50" y1="78.52" x2="470.70" y2="78.52" stroke="#5BBCE4" stroke-width="0.7"/>
<line x1="479.82" y1="78.88" x2="479.82" y2="80.31" stroke="#5BBCE4" stroke-width="0.8"/>
<line x1="478.72" y1="78.88" x2="480.92" y2="78.88" stroke="#5BBCE4" stroke-width="0.7"/>
<line x1="478.72" y1="80.31" x2="480.92" y2="80.31" stroke="#5BBCE4" stroke-width="0.7"/>
<line x1="490.04" y1="83.04" x2="490.04" y2="85.91" stroke="#5BBCE4" stroke-width="0.8"/>
<line x1="488.94" y1="83.04" x2="491.14" y2="83.04" stroke="#5BBCE4" stroke-width="0.7"/>
<line x1="488.94" y1="85.91" x2="491.14" y2="85.91" stroke="#5BBCE4" stroke-width="0.7"/>
<line x1="500.26" y1="83.68" x2="500.26" y2="86.55" stroke="#5BBCE4" stroke-width="0.8"/>
<line x1="499.16" y1="83.68" x2="501.36" y2="83.68" stroke="#5BBCE4" stroke-width="0.7"/>
<line x1="499.16" y1="86.55" x2="501.36" y2="86.55" stroke="#5BBCE4" stroke-width="0.7"/>
<polyline points="428.72,91.29 438.94,76.94 449.16,64.81 459.38,79.59 469.60,77.08 479.82,79.59 490.04,84.47 500.26,85.12 510.48,99.32" fill="none" stroke="#5DBCE0" stroke-width="0.85"/>
<rect x="427.92" y="90.49" width="1.60" height="1.60" fill="#2E88AE"/>
<rect x="438.14" y="76.14" width="1.60" height="1.60" fill="#2E88AE"/>
<rect x="448.36" y="64.01" width="1.60" height="1.60" fill="#2E88AE"/>
<rect x="458.58" y="78.79" width="1.60" height="1.60" fill="#2E88AE"/>
<rect x="468.80" y="76.28" width="1.60" height="1.60" fill="#2E88AE"/>
<rect x="479.02" y="78.79" width="1.60" height="1.60" fill="#2E88AE"/>
<rect x="489.24" y="83.67" width="1.60" height="1.60" fill="#2E88AE"/>
<rect x="499.46" y="84.32" width="1.60" height="1.60" fill="#2E88AE"/>
<rect x="509.68" y="98.52" width="1.60" height="1.60" fill="#2E88AE"/>
<line x1="428.72" y1="96.45" x2="428.72" y2="97.89" stroke="#CC4467" stroke-width="0.8"/>
<line x1="427.62" y1="96.45" x2="429.82" y2="96.45" stroke="#CC4467" stroke-width="0.7"/>
<line x1="427.62" y1="97.89" x2="429.82" y2="97.89" stroke="#CC4467" stroke-width="0.7"/>
<line x1="438.94" y1="88.42" x2="438.94" y2="92.72" stroke="#CC4467" stroke-width="0.8"/>
<line x1="437.84" y1="88.42" x2="440.04" y2="88.42" stroke="#CC4467" stroke-width="0.7"/>
<line x1="437.84" y1="92.72" x2="440.04" y2="92.72" stroke="#CC4467" stroke-width="0.7"/>
<line x1="449.16" y1="67.97" x2="449.16" y2="72.27" stroke="#CC4467" stroke-width="0.8"/>
<line x1="448.06" y1="67.97" x2="450.26" y2="67.97" stroke="#CC4467" stroke-width="0.7"/>
<line x1="448.06" y1="72.27" x2="450.26" y2="72.27" stroke="#CC4467" stroke-width="0.7"/>
<line x1="459.38" y1="70.05" x2="459.38" y2="75.79" stroke="#CC4467" stroke-width="0.8"/>
<line x1="458.28" y1="70.05" x2="460.48" y2="70.05" stroke="#CC4467" stroke-width="0.7"/>
<line x1="458.28" y1="75.79" x2="460.48" y2="75.79" stroke="#CC4467" stroke-width="0.7"/>
<line x1="469.60" y1="55.92" x2="469.60" y2="63.09" stroke="#CC4467" stroke-width="0.8"/>
<line x1="468.50" y1="55.92" x2="470.70" y2="55.92" stroke="#CC4467" stroke-width="0.7"/>
<line x1="468.50" y1="63.09" x2="470.70" y2="63.09" stroke="#CC4467" stroke-width="0.7"/>
<line x1="479.82" y1="58.07" x2="479.82" y2="65.24" stroke="#CC4467" stroke-width="0.8"/>
<line x1="478.72" y1="58.07" x2="480.92" y2="58.07" stroke="#CC4467" stroke-width="0.7"/>
<line x1="478.72" y1="65.24" x2="480.92" y2="65.24" stroke="#CC4467" stroke-width="0.7"/>
<line x1="490.04" y1="64.81" x2="490.04" y2="71.99" stroke="#CC4467" stroke-width="0.8"/>
<line x1="488.94" y1="64.81" x2="491.14" y2="64.81" stroke="#CC4467" stroke-width="0.7"/>
<line x1="488.94" y1="71.99" x2="491.14" y2="71.99" stroke="#CC4467" stroke-width="0.7"/>
<line x1="500.26" y1="71.84" x2="500.26" y2="79.02" stroke="#CC4467" stroke-width="0.8"/>
<line x1="499.16" y1="71.84" x2="501.36" y2="71.84" stroke="#CC4467" stroke-width="0.7"/>
<line x1="499.16" y1="79.02" x2="501.36" y2="79.02" stroke="#CC4467" stroke-width="0.7"/>
<line x1="510.48" y1="95.38" x2="510.48" y2="96.81" stroke="#CC4467" stroke-width="0.8"/>
<line x1="509.38" y1="95.38" x2="511.58" y2="95.38" stroke="#CC4467" stroke-width="0.7"/>
<line x1="509.38" y1="96.81" x2="511.58" y2="96.81" stroke="#CC4467" stroke-width="0.7"/>
<polyline points="428.72,97.17 438.94,90.57 449.16,70.12 459.38,72.92 469.60,59.50 479.82,61.66 490.04,68.40 500.26,75.43 510.48,96.09" fill="none" stroke="#B51F48" stroke-width="0.85"/>
<rect x="427.92" y="96.37" width="1.60" height="1.60" fill="#8A1434"/>
<rect x="438.14" y="89.77" width="1.60" height="1.60" fill="#8A1434"/>
<rect x="448.36" y="69.32" width="1.60" height="1.60" fill="#8A1434"/>
<rect x="458.58" y="72.12" width="1.60" height="1.60" fill="#8A1434"/>
<rect x="468.80" y="58.70" width="1.60" height="1.60" fill="#8A1434"/>
<rect x="479.02" y="60.86" width="1.60" height="1.60" fill="#8A1434"/>
<rect x="489.24" y="67.60" width="1.60" height="1.60" fill="#8A1434"/>
<rect x="499.46" y="74.63" width="1.60" height="1.60" fill="#8A1434"/>
<rect x="509.68" y="95.30" width="1.60" height="1.60" fill="#8A1434"/>
<text x="428.00" y="76.14" font-size="5.6" text-anchor="middle" fill="#222" font-weight="bold">**</text>
<text x="436.00" y="64.54" font-size="5.6" text-anchor="middle" fill="#222" font-weight="bold">**</text>
<text x="468.60" y="43.04" font-size="5.6" text-anchor="middle" fill="#222" font-weight="bold">**</text>
<text x="479.80" y="48.34" font-size="5.6" text-anchor="middle" fill="#222" font-weight="bold">**</text>
<text x="490.00" y="56.54" font-size="5.6" text-anchor="middle" fill="#222" font-weight="bold">*</text>
<text x="500.30" y="67.74" font-size="5.6" text-anchor="middle" fill="#222" font-weight="bold">*</text>
<text x="465.40" y="28.80" font-size="8.5" text-anchor="middle" fill="#111" font-weight="normal" textLength="17.4" lengthAdjust="spacingAndGlyphs" >PD-1</text>
<text transform="translate(398.90,70.40) rotate(-90)" x="0" y="2.70" font-size="7.5" text-anchor="middle" fill="#1e1e1e" font-weight="bold" textLength="23.8" lengthAdjust="spacingAndGlyphs">% of CD8</text>
<text x="466.19" y="123.40" font-size="8.6" text-anchor="middle" fill="#2a2a2a" font-weight="bold" textLength="53.6" lengthAdjust="spacingAndGlyphs" >Days post stimulation</text>
<text x="424.80" y="46.90" font-size="6.1" text-anchor="start" fill="#3FAFDD" font-weight="normal" >HD</text>
<text x="424.80" y="53.40" font-size="6.1" text-anchor="start" fill="#B8193F" font-weight="normal" >CLL</text>
<rect x="39.50" y="229.20" width="7.80" height="1.10" fill="#29A6E0"/>
<line x1="43.40" y1="228.92" x2="43.40" y2="229.47" stroke="#222" stroke-width="0.7"/>
<line x1="41.90" y1="228.92" x2="44.90" y2="228.92" stroke="#222" stroke-width="0.7"/>
<circle cx="42.40" cy="228.64" r="0.9" fill="#111"/>
<circle cx="44.90" cy="229.47" r="0.9" fill="#111"/>
<circle cx="43.40" cy="229.20" r="0.9" fill="#111"/>
<rect x="52.20" y="224.50" width="7.80" height="5.80" fill="#C8102E"/>
<line x1="56.10" y1="223.68" x2="56.10" y2="225.33" stroke="#222" stroke-width="0.7"/>
<line x1="54.60" y1="223.68" x2="57.60" y2="223.68" stroke="#222" stroke-width="0.7"/>
<circle cx="55.10" cy="223.12" r="0.9" fill="#111"/>
<circle cx="57.60" cy="224.23" r="0.9" fill="#111"/>
<circle cx="56.10" cy="225.33" r="0.9" fill="#111"/>
<rect x="65.10" y="177.31" width="7.80" height="52.99" fill="#29A6E0"/>
<line x1="69.00" y1="176.87" x2="69.00" y2="177.75" stroke="#222" stroke-width="0.7"/>
<line x1="67.50" y1="176.87" x2="70.50" y2="176.87" stroke="#222" stroke-width="0.7"/>
<circle cx="67.00" cy="176.76" r="0.9" fill="#111"/>
<circle cx="69.00" cy="177.31" r="0.9" fill="#111"/>
<circle cx="71.00" cy="177.58" r="0.9" fill="#111"/>
<rect x="78.10" y="212.64" width="7.80" height="17.66" fill="#C8102E"/>
<line x1="82.00" y1="208.22" x2="82.00" y2="217.05" stroke="#222" stroke-width="0.7"/>
<line x1="80.50" y1="208.22" x2="83.50" y2="208.22" stroke="#222" stroke-width="0.7"/>
<circle cx="82.00" cy="205.46" r="0.9" fill="#111"/>
<circle cx="82.00" cy="208.22" r="0.9" fill="#111"/>
<circle cx="81.00" cy="213.74" r="0.9" fill="#111"/>
<circle cx="83.00" cy="219.26" r="0.9" fill="#111"/>
<line x1="35.50" y1="230.80" x2="35.50" y2="172.50" stroke="#111" stroke-width="1.2"/>
<line x1="32.30" y1="230.30" x2="35.50" y2="230.30" stroke="#111" stroke-width="1.2"/>
<text x="29.70" y="232.46" font-size="6" text-anchor="end" fill="#2a2a2a" font-weight="normal" >0</text>
<line x1="32.30" y1="219.26" x2="35.50" y2="219.26" stroke="#111" stroke-width="1.2"/>
<text x="29.70" y="221.42" font-size="6" text-anchor="end" fill="#2a2a2a" font-weight="normal" >20</text>
<line x1="32.30" y1="208.22" x2="35.50" y2="208.22" stroke="#111" stroke-width="1.2"/>
<text x="29.70" y="210.38" font-size="6" text-anchor="end" fill="#2a2a2a" font-weight="normal" >40</text>
<line x1="32.30" y1="197.18" x2="35.50" y2="197.18" stroke="#111" stroke-width="1.2"/>
<text x="29.70" y="199.34" font-size="6" text-anchor="end" fill="#2a2a2a" font-weight="normal" >60</text>
<line x1="32.30" y1="186.14" x2="35.50" y2="186.14" stroke="#111" stroke-width="1.2"/>
<text x="29.70" y="188.30" font-size="6" text-anchor="end" fill="#2a2a2a" font-weight="normal" >80</text>
<line x1="32.30" y1="175.10" x2="35.50" y2="175.10" stroke="#111" stroke-width="1.2"/>
<text x="29.70" y="177.26" font-size="6" text-anchor="end" fill="#2a2a2a" font-weight="normal" >100</text>
<line x1="35.00" y1="230.30" x2="89.50" y2="230.30" stroke="#111" stroke-width="1.2"/>
<polyline points="69.00,173.50 69.00,170.30 82.00,170.30 82.00,173.50" fill="none" stroke="#333" stroke-width="0.7"/>
<text x="75.60" y="169.74" font-size="5.6" text-anchor="middle" fill="#222" font-weight="bold">*</text>
<line x1="39.40" y1="234.30" x2="60.00" y2="234.30" stroke="#8a8a8a" stroke-width="0.9"/>
<line x1="65.30" y1="234.30" x2="85.60" y2="234.30" stroke="#8a8a8a" stroke-width="0.9"/>
<text x="49.50" y="241.50" font-size="6.2" text-anchor="middle" fill="#222" font-weight="normal" textLength="26.6" lengthAdjust="spacingAndGlyphs" >No restim.</text>
<text x="75.00" y="241.50" font-size="6.2" text-anchor="middle" fill="#222" font-weight="normal" textLength="19.6" lengthAdjust="spacingAndGlyphs" >Restim.</text>
<text x="62.50" y="159.50" font-size="8.5" text-anchor="middle" fill="#111" font-weight="normal" >CD25</text>
<text transform="translate(10.20,201.70) rotate(-90)" x="0" y="2.70" font-size="7.5" text-anchor="middle" fill="#1e1e1e" font-weight="bold" textLength="23.6" lengthAdjust="spacingAndGlyphs">% of CD4</text>
<rect x="127.80" y="229.75" width="7.80" height="0.55" fill="#29A6E0"/>
<line x1="131.70" y1="229.58" x2="131.70" y2="229.91" stroke="#222" stroke-width="0.7"/>
<line x1="130.20" y1="229.58" x2="133.20" y2="229.58" stroke="#222" stroke-width="0.7"/>
<circle cx="130.70" cy="229.75" r="0.9" fill="#111"/>
<circle cx="133.20" cy="229.86" r="0.9" fill="#111"/>
<rect x="141.60" y="229.20" width="7.80" height="1.10" fill="#C8102E"/>
<line x1="145.50" y1="228.64" x2="145.50" y2="229.75" stroke="#222" stroke-width="0.7"/>
<line x1="144.00" y1="228.64" x2="147.00" y2="228.64" stroke="#222" stroke-width="0.7"/>
<circle cx="144.50" cy="228.64" r="0.9" fill="#111"/>
<circle cx="147.00" cy="229.47" r="0.9" fill="#111"/>
<rect x="154.40" y="176.76" width="7.80" height="53.54" fill="#29A6E0"/>
<line x1="158.30" y1="175.93" x2="158.30" y2="177.58" stroke="#222" stroke-width="0.7"/>
<line x1="156.80" y1="175.93" x2="159.80" y2="175.93" stroke="#222" stroke-width="0.7"/>
<circle cx="156.30" cy="175.65" r="0.9" fill="#111"/>
<circle cx="159.30" cy="176.76" r="0.9" fill="#111"/>
<circle cx="160.80" cy="177.86" r="0.9" fill="#111"/>
<rect x="167.40" y="219.26" width="7.80" height="11.04" fill="#C8102E"/>
<line x1="171.30" y1="213.19" x2="171.30" y2="225.33" stroke="#222" stroke-width="0.7"/>
<line x1="169.80" y1="213.19" x2="172.80" y2="213.19" stroke="#222" stroke-width="0.7"/>
<circle cx="171.30" cy="208.22" r="0.9" fill="#111"/>
<circle cx="171.30" cy="216.50" r="0.9" fill="#111"/>
<circle cx="172.30" cy="223.68" r="0.9" fill="#111"/>
<line x1="124.20" y1="230.80" x2="124.20" y2="172.50" stroke="#111" stroke-width="1.2"/>
<line x1="121.00" y1="230.30" x2="124.20" y2="230.30" stroke="#111" stroke-width="1.2"/>
<text x="118.40" y="232.46" font-size="6" text-anchor="end" fill="#2a2a2a" font-weight="normal" >0</text>
<line x1="121.00" y1="219.26" x2="124.20" y2="219.26" stroke="#111" stroke-width="1.2"/>
<text x="118.40" y="221.42" font-size="6" text-anchor="end" fill="#2a2a2a" font-weight="normal" >20</text>
<line x1="121.00" y1="208.22" x2="124.20" y2="208.22" stroke="#111" stroke-width="1.2"/>
<text x="118.40" y="210.38" font-size="6" text-anchor="end" fill="#2a2a2a" font-weight="normal" >40</text>
<line x1="121.00" y1="197.18" x2="124.20" y2="197.18" stroke="#111" stroke-width="1.2"/>
<text x="118.40" y="199.34" font-size="6" text-anchor="end" fill="#2a2a2a" font-weight="normal" >60</text>
<line x1="121.00" y1="186.14" x2="124.20" y2="186.14" stroke="#111" stroke-width="1.2"/>
<text x="118.40" y="188.30" font-size="6" text-anchor="end" fill="#2a2a2a" font-weight="normal" >80</text>
<line x1="121.00" y1="175.10" x2="124.20" y2="175.10" stroke="#111" stroke-width="1.2"/>
<text x="118.40" y="177.26" font-size="6" text-anchor="end" fill="#2a2a2a" font-weight="normal" >100</text>
<line x1="123.70" y1="230.30" x2="178.50" y2="230.30" stroke="#111" stroke-width="1.2"/>
<polyline points="158.30,173.00 158.30,169.80 171.30,169.80 171.30,173.00" fill="none" stroke="#333" stroke-width="0.7"/>
<text x="164.60" y="168.44" font-size="5.6" text-anchor="middle" fill="#222" font-weight="bold">*</text>
<line x1="128.30" y1="234.30" x2="149.40" y2="234.30" stroke="#8a8a8a" stroke-width="0.9"/>
<line x1="154.00" y1="234.30" x2="175.50" y2="234.30" stroke="#8a8a8a" stroke-width="0.9"/>
<text x="138.70" y="241.50" font-size="6.2" text-anchor="middle" fill="#222" font-weight="normal" textLength="26.6" lengthAdjust="spacingAndGlyphs" >No restim.</text>
<text x="164.40" y="241.50" font-size="6.2" text-anchor="middle" fill="#222" font-weight="normal" textLength="19.6" lengthAdjust="spacingAndGlyphs" >Restim.</text>
<text x="152.20" y="159.50" font-size="8.5" text-anchor="middle" fill="#111" font-weight="normal" >CD25</text>
<text transform="translate(100.10,201.40) rotate(-90)" x="0" y="2.70" font-size="7.5" text-anchor="middle" fill="#1e1e1e" font-weight="bold" textLength="24" lengthAdjust="spacingAndGlyphs">% of CD8</text>
<rect x="224.80" y="190.36" width="7.80" height="39.44" fill="#29A6E0"/>
<line x1="228.70" y1="188.14" x2="228.70" y2="192.59" stroke="#222" stroke-width="0.7"/>
<line x1="227.20" y1="188.14" x2="230.20" y2="188.14" stroke="#222" stroke-width="0.7"/>
<circle cx="228.70" cy="181.01" r="0.9" fill="#111"/>
<circle cx="227.20" cy="188.36" r="0.9" fill="#111"/>
<circle cx="230.20" cy="188.36" r="0.9" fill="#111"/>
<circle cx="226.70" cy="193.04" r="0.9" fill="#111"/>
<circle cx="228.70" cy="199.05" r="0.9" fill="#111"/>
<rect x="237.00" y="205.29" width="7.80" height="24.51" fill="#C8102E"/>
<line x1="240.90" y1="203.06" x2="240.90" y2="207.52" stroke="#222" stroke-width="0.7"/>
<line x1="239.40" y1="203.06" x2="242.40" y2="203.06" stroke="#222" stroke-width="0.7"/>
<circle cx="238.10" cy="195.27" r="0.9" fill="#111"/>
<circle cx="241.10" cy="195.27" r="0.9" fill="#111"/>
<circle cx="243.90" cy="195.27" r="0.9" fill="#111"/>
<circle cx="239.40" cy="197.49" r="0.9" fill="#111"/>
<circle cx="242.90" cy="197.49" r="0.9" fill="#111"/>
<circle cx="240.40" cy="199.94" r="0.9" fill="#111"/>
<circle cx="241.40" cy="201.95" r="0.9" fill="#111"/>
<line x1="220.20" y1="230.30" x2="220.20" y2="171.50" stroke="#111" stroke-width="1.2"/>
<line x1="217.00" y1="229.80" x2="220.20" y2="229.80" stroke="#111" stroke-width="1.2"/>
<text x="214.40" y="231.96" font-size="6" text-anchor="end" fill="#2a2a2a" font-weight="normal" >0.0</text>
<line x1="217.00" y1="218.66" x2="220.20" y2="218.66" stroke="#111" stroke-width="1.2"/>
<text x="214.40" y="220.82" font-size="6" text-anchor="end" fill="#2a2a2a" font-weight="normal" >0.5</text>
<line x1="217.00" y1="207.52" x2="220.20" y2="207.52" stroke="#111" stroke-width="1.2"/>
<text x="214.40" y="209.68" font-size="6" text-anchor="end" fill="#2a2a2a" font-weight="normal" >1.0</text>
<line x1="217.00" y1="196.38" x2="220.20" y2="196.38" stroke="#111" stroke-width="1.2"/>
<text x="214.40" y="198.54" font-size="6" text-anchor="end" fill="#2a2a2a" font-weight="normal" >1.5</text>
<line x1="217.00" y1="185.24" x2="220.20" y2="185.24" stroke="#111" stroke-width="1.2"/>
<text x="214.40" y="187.40" font-size="6" text-anchor="end" fill="#2a2a2a" font-weight="normal" >2.0</text>
<line x1="217.00" y1="174.10" x2="220.20" y2="174.10" stroke="#111" stroke-width="1.2"/>
<text x="214.40" y="176.26" font-size="6" text-anchor="end" fill="#2a2a2a" font-weight="normal" >2.5</text>
<line x1="219.70" y1="229.80" x2="248.90" y2="229.80" stroke="#111" stroke-width="1.2"/>
<polyline points="228.70,177.90 228.70,174.70 240.90,174.70 240.90,177.90" fill="none" stroke="#333" stroke-width="0.7"/>
<text x="234.80" y="174.34" font-size="5.6" text-anchor="middle" fill="#222" font-weight="bold">*</text>
<text x="228.70" y="242.00" font-size="6.5" text-anchor="middle" fill="#111" font-weight="normal" >HD</text>
<text x="241.40" y="242.00" font-size="6.5" text-anchor="middle" fill="#111" font-weight="normal" >CLL</text>
<line x1="228.70" y1="229.80" x2="228.70" y2="232.30" stroke="#111" stroke-width="1.2"/>
<line x1="240.90" y1="229.80" x2="240.90" y2="232.30" stroke="#111" stroke-width="1.2"/>
<text transform="translate(197.90,201.00) rotate(-90)" x="0" y="2.88" font-size="8" text-anchor="middle" fill="#1e1e1e" font-weight="bold" textLength="30.8" lengthAdjust="spacingAndGlyphs">Prolif. index</text>
<rect x="280.30" y="200.40" width="7.80" height="29.40" fill="#29A6E0"/>
<line x1="284.20" y1="197.60" x2="284.20" y2="203.20" stroke="#222" stroke-width="0.7"/>
<line x1="282.70" y1="197.60" x2="285.70" y2="197.60" stroke="#222" stroke-width="0.7"/>
<circle cx="284.20" cy="190.11" r="0.9" fill="#111"/>
<circle cx="282.20" cy="200.82" r="0.9" fill="#111"/>
<circle cx="286.20" cy="200.82" r="0.9" fill="#111"/>
<circle cx="283.70" cy="203.97" r="0.9" fill="#111"/>
<circle cx="284.20" cy="208.80" r="0.9" fill="#111"/>
<rect x="292.20" y="211.60" width="7.80" height="18.20" fill="#C8102E"/>
<line x1="296.10" y1="209.50" x2="296.10" y2="213.70" stroke="#222" stroke-width="0.7"/>
<line x1="294.60" y1="209.50" x2="297.60" y2="209.50" stroke="#222" stroke-width="0.7"/>
<circle cx="297.60" cy="204.60" r="0.9" fill="#111"/>
<circle cx="293.60" cy="206.49" r="0.9" fill="#111"/>
<circle cx="297.10" cy="206.49" r="0.9" fill="#111"/>
<circle cx="299.90" cy="206.49" r="0.9" fill="#111"/>
<circle cx="293.60" cy="208.38" r="0.9" fill="#111"/>
<circle cx="297.10" cy="208.38" r="0.9" fill="#111"/>
<circle cx="299.90" cy="208.38" r="0.9" fill="#111"/>
<circle cx="296.10" cy="222.80" r="0.9" fill="#111"/>
<line x1="276.30" y1="230.30" x2="276.30" y2="171.50" stroke="#111" stroke-width="1.2"/>
<line x1="273.10" y1="229.80" x2="276.30" y2="229.80" stroke="#111" stroke-width="1.2"/>
<text x="270.50" y="231.96" font-size="6" text-anchor="end" fill="#2a2a2a" font-weight="normal" >0</text>
<line x1="273.10" y1="215.80" x2="276.30" y2="215.80" stroke="#111" stroke-width="1.2"/>
<text x="270.50" y="217.96" font-size="6" text-anchor="end" fill="#2a2a2a" font-weight="normal" >2</text>
<line x1="273.10" y1="201.80" x2="276.30" y2="201.80" stroke="#111" stroke-width="1.2"/>
<text x="270.50" y="203.96" font-size="6" text-anchor="end" fill="#2a2a2a" font-weight="normal" >4</text>
<line x1="273.10" y1="187.80" x2="276.30" y2="187.80" stroke="#111" stroke-width="1.2"/>
<text x="270.50" y="189.96" font-size="6" text-anchor="end" fill="#2a2a2a" font-weight="normal" >6</text>
<line x1="273.10" y1="173.80" x2="276.30" y2="173.80" stroke="#111" stroke-width="1.2"/>
<text x="270.50" y="175.96" font-size="6" text-anchor="end" fill="#2a2a2a" font-weight="normal" >8</text>
<line x1="275.80" y1="229.80" x2="304.10" y2="229.80" stroke="#111" stroke-width="1.2"/>
<polyline points="284.20,185.50 284.20,182.30 296.10,182.30 296.10,185.50" fill="none" stroke="#333" stroke-width="0.7"/>
<text x="290.15" y="181.94" font-size="5.6" text-anchor="middle" fill="#222" font-weight="bold">**</text>
<text x="284.20" y="242.00" font-size="6.5" text-anchor="middle" fill="#111" font-weight="normal" >HD</text>
<text x="296.60" y="242.00" font-size="6.5" text-anchor="middle" fill="#111" font-weight="normal" >CLL</text>
<line x1="284.20" y1="229.80" x2="284.20" y2="232.30" stroke="#111" stroke-width="1.2"/>
<line x1="296.10" y1="229.80" x2="296.10" y2="232.30" stroke="#111" stroke-width="1.2"/>
<text transform="translate(257.70,201.00) rotate(-90)" x="0" y="2.88" font-size="8" text-anchor="middle" fill="#1e1e1e" font-weight="bold" textLength="31.8" lengthAdjust="spacingAndGlyphs">Replic. index</text>
<rect x="345.30" y="188.80" width="7.80" height="41.00" fill="#29A6E0"/>
<line x1="349.20" y1="185.46" x2="349.20" y2="192.15" stroke="#222" stroke-width="0.7"/>
<line x1="347.70" y1="185.46" x2="350.70" y2="185.46" stroke="#222" stroke-width="0.7"/>
<circle cx="349.20" cy="177.66" r="0.9" fill="#111"/>
<circle cx="349.20" cy="179.45" r="0.9" fill="#111"/>
<circle cx="349.20" cy="193.04" r="0.9" fill="#111"/>
<circle cx="349.20" cy="198.39" r="0.9" fill="#111"/>
<rect x="357.40" y="202.17" width="7.80" height="27.63" fill="#C8102E"/>
<line x1="361.30" y1="200.39" x2="361.30" y2="203.96" stroke="#222" stroke-width="0.7"/>
<line x1="359.80" y1="200.39" x2="362.80" y2="200.39" stroke="#222" stroke-width="0.7"/>
<circle cx="361.30" cy="190.36" r="0.9" fill="#111"/>
<circle cx="360.00" cy="193.93" r="0.9" fill="#111"/>
<circle cx="363.00" cy="193.93" r="0.9" fill="#111"/>
<circle cx="360.00" cy="195.93" r="0.9" fill="#111"/>
<circle cx="363.00" cy="195.93" r="0.9" fill="#111"/>
<circle cx="359.00" cy="198.39" r="0.9" fill="#111"/>
<circle cx="362.00" cy="198.39" r="0.9" fill="#111"/>
<circle cx="364.00" cy="198.39" r="0.9" fill="#111"/>
<line x1="340.90" y1="230.30" x2="340.90" y2="171.50" stroke="#111" stroke-width="1.2"/>
<line x1="337.70" y1="229.80" x2="340.90" y2="229.80" stroke="#111" stroke-width="1.2"/>
<text x="335.10" y="231.96" font-size="6" text-anchor="end" fill="#2a2a2a" font-weight="normal" >0.0</text>
<line x1="337.70" y1="218.66" x2="340.90" y2="218.66" stroke="#111" stroke-width="1.2"/>
<text x="335.10" y="220.82" font-size="6" text-anchor="end" fill="#2a2a2a" font-weight="normal" >0.5</text>
<line x1="337.70" y1="207.52" x2="340.90" y2="207.52" stroke="#111" stroke-width="1.2"/>
<text x="335.10" y="209.68" font-size="6" text-anchor="end" fill="#2a2a2a" font-weight="normal" >1.0</text>
<line x1="337.70" y1="196.38" x2="340.90" y2="196.38" stroke="#111" stroke-width="1.2"/>
<text x="335.10" y="198.54" font-size="6" text-anchor="end" fill="#2a2a2a" font-weight="normal" >1.5</text>
<line x1="337.70" y1="185.24" x2="340.90" y2="185.24" stroke="#111" stroke-width="1.2"/>
<text x="335.10" y="187.40" font-size="6" text-anchor="end" fill="#2a2a2a" font-weight="normal" >2.0</text>
<line x1="337.70" y1="174.10" x2="340.90" y2="174.10" stroke="#111" stroke-width="1.2"/>
<text x="335.10" y="176.26" font-size="6" text-anchor="end" fill="#2a2a2a" font-weight="normal" >2.5</text>
<line x1="340.40" y1="229.80" x2="369.30" y2="229.80" stroke="#111" stroke-width="1.2"/>
<polyline points="349.20,171.40 349.20,168.20 361.30,168.20 361.30,171.40" fill="none" stroke="#333" stroke-width="0.7"/>
<text x="355.25" y="167.84" font-size="5.6" text-anchor="middle" fill="#222" font-weight="bold">*</text>
<text x="349.20" y="242.00" font-size="6.5" text-anchor="middle" fill="#111" font-weight="normal" >HD</text>
<text x="361.80" y="242.00" font-size="6.5" text-anchor="middle" fill="#111" font-weight="normal" >CLL</text>
<line x1="349.20" y1="229.80" x2="349.20" y2="232.30" stroke="#111" stroke-width="1.2"/>
<line x1="361.30" y1="229.80" x2="361.30" y2="232.30" stroke="#111" stroke-width="1.2"/>
<text transform="translate(318.40,201.00) rotate(-90)" x="0" y="2.88" font-size="8" text-anchor="middle" fill="#1e1e1e" font-weight="bold" textLength="30.8" lengthAdjust="spacingAndGlyphs">Prolif. index</text>
<rect x="400.30" y="199.00" width="7.80" height="30.80" fill="#29A6E0"/>
<line x1="404.20" y1="194.10" x2="404.20" y2="203.90" stroke="#222" stroke-width="0.7"/>
<line x1="402.70" y1="194.10" x2="405.70" y2="194.10" stroke="#222" stroke-width="0.7"/>
<circle cx="404.20" cy="182.97" r="0.9" fill="#111"/>
<circle cx="404.20" cy="188.08" r="0.9" fill="#111"/>
<circle cx="402.20" cy="200.19" r="0.9" fill="#111"/>
<circle cx="405.20" cy="202.92" r="0.9" fill="#111"/>
<circle cx="404.20" cy="209.22" r="0.9" fill="#111"/>
<rect x="412.20" y="210.90" width="7.80" height="18.90" fill="#C8102E"/>
<line x1="416.10" y1="209.15" x2="416.10" y2="212.65" stroke="#222" stroke-width="0.7"/>
<line x1="414.60" y1="209.15" x2="417.60" y2="209.15" stroke="#222" stroke-width="0.7"/>
<circle cx="415.10" cy="202.01" r="0.9" fill="#111"/>
<circle cx="413.10" cy="206.21" r="0.9" fill="#111"/>
<circle cx="418.10" cy="206.21" r="0.9" fill="#111"/>
<circle cx="412.10" cy="208.31" r="0.9" fill="#111"/>
<circle cx="416.10" cy="208.31" r="0.9" fill="#111"/>
<circle cx="419.10" cy="208.31" r="0.9" fill="#111"/>
<circle cx="414.10" cy="210.97" r="0.9" fill="#111"/>
<circle cx="416.10" cy="222.80" r="0.9" fill="#111"/>
<line x1="396.60" y1="230.30" x2="396.60" y2="171.50" stroke="#111" stroke-width="1.2"/>
<line x1="393.40" y1="229.80" x2="396.60" y2="229.80" stroke="#111" stroke-width="1.2"/>
<text x="390.80" y="231.96" font-size="6" text-anchor="end" fill="#2a2a2a" font-weight="normal" >0</text>
<line x1="393.40" y1="215.80" x2="396.60" y2="215.80" stroke="#111" stroke-width="1.2"/>
<text x="390.80" y="217.96" font-size="6" text-anchor="end" fill="#2a2a2a" font-weight="normal" >2</text>
<line x1="393.40" y1="201.80" x2="396.60" y2="201.80" stroke="#111" stroke-width="1.2"/>
<text x="390.80" y="203.96" font-size="6" text-anchor="end" fill="#2a2a2a" font-weight="normal" >4</text>
<line x1="393.40" y1="187.80" x2="396.60" y2="187.80" stroke="#111" stroke-width="1.2"/>
<text x="390.80" y="189.96" font-size="6" text-anchor="end" fill="#2a2a2a" font-weight="normal" >6</text>
<line x1="393.40" y1="173.80" x2="396.60" y2="173.80" stroke="#111" stroke-width="1.2"/>
<text x="390.80" y="175.96" font-size="6" text-anchor="end" fill="#2a2a2a" font-weight="normal" >8</text>
<line x1="396.10" y1="229.80" x2="424.10" y2="229.80" stroke="#111" stroke-width="1.2"/>
<polyline points="404.20,172.00 404.20,168.80 416.10,168.80 416.10,172.00" fill="none" stroke="#333" stroke-width="0.7"/>
<text x="410.15" y="168.44" font-size="5.6" text-anchor="middle" fill="#222" font-weight="bold">*</text>
<text x="404.20" y="242.00" font-size="6.5" text-anchor="middle" fill="#111" font-weight="normal" >HD</text>
<text x="416.60" y="242.00" font-size="6.5" text-anchor="middle" fill="#111" font-weight="normal" >CLL</text>
<line x1="404.20" y1="229.80" x2="404.20" y2="232.30" stroke="#111" stroke-width="1.2"/>
<line x1="416.10" y1="229.80" x2="416.10" y2="232.30" stroke="#111" stroke-width="1.2"/>
<text transform="translate(377.70,201.00) rotate(-90)" x="0" y="2.88" font-size="8" text-anchor="middle" fill="#1e1e1e" font-weight="bold" textLength="31.8" lengthAdjust="spacingAndGlyphs">Replic. index</text>
<text x="262.00" y="147.20" font-size="8.5" text-anchor="middle" fill="#111" font-weight="normal" >CD4</text>
<line x1="220.70" y1="152.20" x2="303.80" y2="152.20" stroke="#444" stroke-width="0.9"/>
<text x="383.70" y="147.20" font-size="8.5" text-anchor="middle" fill="#111" font-weight="normal" >CD8</text>
<line x1="342.30" y1="152.20" x2="424.80" y2="152.20" stroke="#444" stroke-width="0.9"/>
<rect x="434.40" y="161.30" width="6.90" height="6.20" fill="#29A6E0"/>
<rect x="434.40" y="171.30" width="6.90" height="6.20" fill="#C8102E"/>
<text x="444.80" y="166.50" font-size="6.2" text-anchor="start" fill="#1a1a1a" font-weight="normal" >HD</text>
<text x="444.80" y="176.50" font-size="6.2" text-anchor="start" fill="#1a1a1a" font-weight="normal" >CLL</text>
<rect x="36.60" y="347.30" width="7.80" height="4.00" fill="#29A6E0"/>
<line x1="40.50" y1="345.87" x2="40.50" y2="348.73" stroke="#222" stroke-width="0.7"/>
<line x1="39.00" y1="345.87" x2="42.00" y2="345.87" stroke="#222" stroke-width="0.7"/>
<circle cx="40.50" cy="344.15" r="0.9" fill="#111"/>
<circle cx="38.50" cy="347.01" r="0.9" fill="#111"/>
<circle cx="42.50" cy="348.44" r="0.9" fill="#111"/>
<rect x="50.30" y="347.30" width="7.80" height="4.00" fill="#C8102E"/>
<line x1="54.20" y1="346.15" x2="54.20" y2="348.44" stroke="#222" stroke-width="0.7"/>
<line x1="52.70" y1="346.15" x2="55.70" y2="346.15" stroke="#222" stroke-width="0.7"/>
<circle cx="54.20" cy="344.72" r="0.9" fill="#111"/>
<circle cx="55.20" cy="347.87" r="0.9" fill="#111"/>
<rect x="63.30" y="314.98" width="7.80" height="36.32" fill="#29A6E0"/>
<line x1="67.20" y1="306.40" x2="67.20" y2="323.56" stroke="#222" stroke-width="0.7"/>
<line x1="65.70" y1="306.40" x2="68.70" y2="306.40" stroke="#222" stroke-width="0.7"/>
<circle cx="66.20" cy="298.39" r="0.9" fill="#111"/>
<circle cx="67.20" cy="306.97" r="0.9" fill="#111"/>
<circle cx="68.20" cy="316.98" r="0.9" fill="#111"/>
<circle cx="67.20" cy="339.86" r="0.9" fill="#111"/>
<rect x="76.70" y="346.01" width="7.80" height="5.29" fill="#C8102E"/>
<line x1="80.60" y1="344.29" x2="80.60" y2="347.73" stroke="#222" stroke-width="0.7"/>
<line x1="79.10" y1="344.29" x2="82.10" y2="344.29" stroke="#222" stroke-width="0.7"/>
<circle cx="80.60" cy="342.72" r="0.9" fill="#111"/>
<circle cx="81.60" cy="346.15" r="0.9" fill="#111"/>
<line x1="31.50" y1="351.80" x2="31.50" y2="291.60" stroke="#111" stroke-width="1.2"/>
<line x1="28.30" y1="351.30" x2="31.50" y2="351.30" stroke="#111" stroke-width="1.2"/>
<text x="25.70" y="353.46" font-size="6" text-anchor="end" fill="#2a2a2a" font-weight="normal" >0</text>
<line x1="28.30" y1="337.00" x2="31.50" y2="337.00" stroke="#111" stroke-width="1.2"/>
<text x="25.70" y="339.16" font-size="6" text-anchor="end" fill="#2a2a2a" font-weight="normal" >5</text>
<line x1="28.30" y1="322.70" x2="31.50" y2="322.70" stroke="#111" stroke-width="1.2"/>
<text x="25.70" y="324.86" font-size="6" text-anchor="end" fill="#2a2a2a" font-weight="normal" >10</text>
<line x1="28.30" y1="308.40" x2="31.50" y2="308.40" stroke="#111" stroke-width="1.2"/>
<text x="25.70" y="310.56" font-size="6" text-anchor="end" fill="#2a2a2a" font-weight="normal" >15</text>
<line x1="28.30" y1="294.10" x2="31.50" y2="294.10" stroke="#111" stroke-width="1.2"/>
<text x="25.70" y="296.26" font-size="6" text-anchor="end" fill="#2a2a2a" font-weight="normal" >20</text>
<line x1="31.00" y1="351.30" x2="88.00" y2="351.30" stroke="#111" stroke-width="1.2"/>
<text x="60.75" y="277.60" font-size="8.5" text-anchor="middle" fill="#111" font-weight="normal" >IFN<tspan font-size="7">&#947;</tspan></text>
<text transform="translate(10.30,321.50) rotate(-90)" x="0" y="2.70" font-size="7.5" text-anchor="middle" fill="#1e1e1e" font-weight="bold" textLength="24" lengthAdjust="spacingAndGlyphs">% of CD8</text>
<polyline points="40.20,294.30 40.20,291.10 66.20,291.10 66.20,294.30" fill="none" stroke="#333" stroke-width="0.7"/>
<text x="53.40" y="290.54" font-size="5.6" text-anchor="middle" fill="#222" font-weight="bold">**</text>
<polyline points="68.20,294.30 68.20,291.10 80.60,291.10 80.60,294.30" fill="none" stroke="#333" stroke-width="0.7"/>
<text x="74.20" y="290.54" font-size="5.6" text-anchor="middle" fill="#222" font-weight="bold">**</text>
<line x1="37.20" y1="356.00" x2="57.40" y2="356.00" stroke="#8a8a8a" stroke-width="0.9"/>
<line x1="64.00" y1="356.00" x2="84.30" y2="356.00" stroke="#8a8a8a" stroke-width="0.9"/>
<text x="47.10" y="363.00" font-size="6.2" text-anchor="middle" fill="#222" font-weight="normal" textLength="26.6" lengthAdjust="spacingAndGlyphs" >No restim.</text>
<text x="73.80" y="363.00" font-size="6.2" text-anchor="middle" fill="#222" font-weight="normal" textLength="19.6" lengthAdjust="spacingAndGlyphs" >Restim.</text>
<rect x="125.20" y="351.01" width="7.80" height="0.29" fill="#29A6E0"/>
<circle cx="129.10" cy="350.73" r="0.9" fill="#111"/>
<rect x="139.10" y="350.44" width="7.80" height="0.86" fill="#C8102E"/>
<line x1="143.00" y1="349.87" x2="143.00" y2="351.01" stroke="#222" stroke-width="0.7"/>
<line x1="141.50" y1="349.87" x2="144.50" y2="349.87" stroke="#222" stroke-width="0.7"/>
<circle cx="143.00" cy="349.87" r="0.9" fill="#111"/>
<circle cx="144.00" cy="350.44" r="0.9" fill="#111"/>
<rect x="152.10" y="318.98" width="7.80" height="32.32" fill="#29A6E0"/>
<line x1="156.00" y1="311.83" x2="156.00" y2="326.13" stroke="#222" stroke-width="0.7"/>
<line x1="154.50" y1="311.83" x2="157.50" y2="311.83" stroke="#222" stroke-width="0.7"/>
<circle cx="156.00" cy="298.39" r="0.9" fill="#111"/>
<circle cx="157.00" cy="314.12" r="0.9" fill="#111"/>
<circle cx="156.00" cy="319.84" r="0.9" fill="#111"/>
<circle cx="156.00" cy="335.57" r="0.9" fill="#111"/>
<rect x="165.70" y="349.30" width="7.80" height="2.00" fill="#C8102E"/>
<line x1="169.60" y1="348.44" x2="169.60" y2="350.16" stroke="#222" stroke-width="0.7"/>
<line x1="168.10" y1="348.44" x2="171.10" y2="348.44" stroke="#222" stroke-width="0.7"/>
<circle cx="169.60" cy="347.01" r="0.9" fill="#111"/>
<circle cx="170.60" cy="349.01" r="0.9" fill="#111"/>
<line x1="120.50" y1="351.80" x2="120.50" y2="291.60" stroke="#111" stroke-width="1.2"/>
<line x1="117.30" y1="351.30" x2="120.50" y2="351.30" stroke="#111" stroke-width="1.2"/>
<text x="114.70" y="353.46" font-size="6" text-anchor="end" fill="#2a2a2a" font-weight="normal" >0</text>
<line x1="117.30" y1="337.00" x2="120.50" y2="337.00" stroke="#111" stroke-width="1.2"/>
<text x="114.70" y="339.16" font-size="6" text-anchor="end" fill="#2a2a2a" font-weight="normal" >5</text>
<line x1="117.30" y1="322.70" x2="120.50" y2="322.70" stroke="#111" stroke-width="1.2"/>
<text x="114.70" y="324.86" font-size="6" text-anchor="end" fill="#2a2a2a" font-weight="normal" >10</text>
<line x1="117.30" y1="308.40" x2="120.50" y2="308.40" stroke="#111" stroke-width="1.2"/>
<text x="114.70" y="310.56" font-size="6" text-anchor="end" fill="#2a2a2a" font-weight="normal" >15</text>
<line x1="117.30" y1="294.10" x2="120.50" y2="294.10" stroke="#111" stroke-width="1.2"/>
<text x="114.70" y="296.26" font-size="6" text-anchor="end" fill="#2a2a2a" font-weight="normal" >20</text>
<line x1="120.00" y1="351.30" x2="177.00" y2="351.30" stroke="#111" stroke-width="1.2"/>
<text x="149.80" y="277.60" font-size="8.5" text-anchor="middle" fill="#111" font-weight="normal" >TNF&#945;</text>
<text transform="translate(99.10,321.50) rotate(-90)" x="0" y="2.70" font-size="7.5" text-anchor="middle" fill="#1e1e1e" font-weight="bold" textLength="24" lengthAdjust="spacingAndGlyphs">% of CD8</text>
<polyline points="129.20,294.30 129.20,291.10 155.50,291.10 155.50,294.30" fill="none" stroke="#333" stroke-width="0.7"/>
<text x="141.90" y="290.54" font-size="5.6" text-anchor="middle" fill="#222" font-weight="bold">**</text>
<polyline points="157.10,294.30 157.10,291.10 169.60,291.10 169.60,294.30" fill="none" stroke="#333" stroke-width="0.7"/>
<text x="163.60" y="290.54" font-size="5.6" text-anchor="middle" fill="#222" font-weight="bold">**</text>
<line x1="126.00" y1="356.00" x2="146.00" y2="356.00" stroke="#8a8a8a" stroke-width="0.9"/>
<line x1="152.60" y1="356.00" x2="172.80" y2="356.00" stroke="#8a8a8a" stroke-width="0.9"/>
<text x="137.30" y="363.00" font-size="6.2" text-anchor="middle" fill="#222" font-weight="normal" textLength="26.6" lengthAdjust="spacingAndGlyphs" >No restim.</text>
<text x="162.70" y="363.00" font-size="6.2" text-anchor="middle" fill="#222" font-weight="normal" textLength="19.6" lengthAdjust="spacingAndGlyphs" >Restim.</text>
<rect x="218.30" y="333.43" width="7.80" height="17.87" fill="#29A6E0"/>
<line x1="222.20" y1="333.14" x2="222.20" y2="333.72" stroke="#222" stroke-width="0.7"/>
<line x1="220.70" y1="333.14" x2="223.70" y2="333.14" stroke="#222" stroke-width="0.7"/>
<circle cx="221.20" cy="332.85" r="0.9" fill="#111"/>
<circle cx="223.20" cy="333.43" r="0.9" fill="#111"/>
<rect x="231.80" y="333.08" width="7.80" height="18.22" fill="#C8102E"/>
<line x1="235.70" y1="332.22" x2="235.70" y2="333.95" stroke="#222" stroke-width="0.7"/>
<line x1="234.20" y1="332.22" x2="237.20" y2="332.22" stroke="#222" stroke-width="0.7"/>
<circle cx="234.70" cy="331.70" r="0.9" fill="#111"/>
<circle cx="236.70" cy="332.85" r="0.9" fill="#111"/>
<rect x="245.00" y="313.25" width="7.80" height="38.05" fill="#29A6E0"/>
<line x1="248.90" y1="307.49" x2="248.90" y2="319.02" stroke="#222" stroke-width="0.7"/>
<line x1="247.40" y1="307.49" x2="250.40" y2="307.49" stroke="#222" stroke-width="0.7"/>
<circle cx="248.90" cy="300.57" r="0.9" fill="#111"/>
<circle cx="249.90" cy="309.79" r="0.9" fill="#111"/>
<circle cx="248.90" cy="319.59" r="0.9" fill="#111"/>
<circle cx="248.90" cy="331.12" r="0.9" fill="#111"/>
<rect x="258.50" y="332.04" width="7.80" height="19.26" fill="#C8102E"/>
<line x1="262.40" y1="330.60" x2="262.40" y2="333.49" stroke="#222" stroke-width="0.7"/>
<line x1="260.90" y1="330.60" x2="263.90" y2="330.60" stroke="#222" stroke-width="0.7"/>
<circle cx="262.40" cy="329.39" r="0.9" fill="#111"/>
<circle cx="263.40" cy="331.12" r="0.9" fill="#111"/>
<line x1="213.50" y1="351.80" x2="213.50" y2="291.15" stroke="#111" stroke-width="1.2"/>
<line x1="210.30" y1="351.30" x2="213.50" y2="351.30" stroke="#111" stroke-width="1.2"/>
<text x="207.70" y="353.46" font-size="6" text-anchor="end" fill="#2a2a2a" font-weight="normal" >0</text>
<line x1="210.30" y1="339.77" x2="213.50" y2="339.77" stroke="#111" stroke-width="1.2"/>
<text x="207.70" y="341.93" font-size="6" text-anchor="end" fill="#2a2a2a" font-weight="normal" >20</text>
<line x1="210.30" y1="328.24" x2="213.50" y2="328.24" stroke="#111" stroke-width="1.2"/>
<text x="207.70" y="330.40" font-size="6" text-anchor="end" fill="#2a2a2a" font-weight="normal" >40</text>
<line x1="210.30" y1="316.71" x2="213.50" y2="316.71" stroke="#111" stroke-width="1.2"/>
<text x="207.70" y="318.87" font-size="6" text-anchor="end" fill="#2a2a2a" font-weight="normal" >60</text>
<line x1="210.30" y1="305.18" x2="213.50" y2="305.18" stroke="#111" stroke-width="1.2"/>
<text x="207.70" y="307.34" font-size="6" text-anchor="end" fill="#2a2a2a" font-weight="normal" >80</text>
<line x1="210.30" y1="293.65" x2="213.50" y2="293.65" stroke="#111" stroke-width="1.2"/>
<text x="207.70" y="295.81" font-size="6" text-anchor="end" fill="#2a2a2a" font-weight="normal" >100</text>
<line x1="213.00" y1="351.30" x2="270.00" y2="351.30" stroke="#111" stroke-width="1.2"/>
<text x="242.40" y="277.60" font-size="8.5" text-anchor="middle" fill="#111" font-weight="normal" >IL-2</text>
<text transform="translate(189.10,321.50) rotate(-90)" x="0" y="2.70" font-size="7.5" text-anchor="middle" fill="#1e1e1e" font-weight="bold" textLength="24" lengthAdjust="spacingAndGlyphs">% of CD8</text>
<polyline points="221.90,296.60 221.90,293.40 248.20,293.40 248.20,296.60" fill="none" stroke="#333" stroke-width="0.7"/>
<text x="235.00" y="292.94" font-size="5.6" text-anchor="middle" fill="#222" font-weight="bold">*</text>
<polyline points="250.10,296.60 250.10,293.40 262.60,293.40 262.60,296.60" fill="none" stroke="#333" stroke-width="0.7"/>
<text x="256.30" y="292.94" font-size="5.6" text-anchor="middle" fill="#222" font-weight="bold">*</text>
<line x1="218.70" y1="356.00" x2="238.80" y2="356.00" stroke="#8a8a8a" stroke-width="0.9"/>
<line x1="245.80" y1="356.00" x2="266.20" y2="356.00" stroke="#8a8a8a" stroke-width="0.9"/>
<text x="229.00" y="363.00" font-size="6.2" text-anchor="middle" fill="#222" font-weight="normal" textLength="26.6" lengthAdjust="spacingAndGlyphs" >No restim.</text>
<text x="255.70" y="363.00" font-size="6.2" text-anchor="middle" fill="#222" font-weight="normal" textLength="19.6" lengthAdjust="spacingAndGlyphs" >Restim.</text>
<rect x="307.20" y="350.75" width="7.80" height="0.55" fill="#29A6E0"/>
<line x1="311.10" y1="350.42" x2="311.10" y2="351.08" stroke="#222" stroke-width="0.7"/>
<line x1="309.60" y1="350.42" x2="312.60" y2="350.42" stroke="#222" stroke-width="0.7"/>
<circle cx="311.10" cy="349.66" r="0.9" fill="#111"/>
<circle cx="312.10" cy="350.75" r="0.9" fill="#111"/>
<rect x="319.70" y="333.11" width="7.80" height="18.19" fill="#C8102E"/>
<line x1="323.60" y1="326.53" x2="323.60" y2="339.68" stroke="#222" stroke-width="0.7"/>
<line x1="322.10" y1="326.53" x2="325.10" y2="326.53" stroke="#222" stroke-width="0.7"/>
<circle cx="322.60" cy="326.09" r="0.9" fill="#111"/>
<circle cx="323.60" cy="338.15" r="0.9" fill="#111"/>
<circle cx="323.60" cy="345.82" r="0.9" fill="#111"/>
<rect x="332.40" y="323.90" width="7.80" height="27.40" fill="#29A6E0"/>
<line x1="336.30" y1="315.13" x2="336.30" y2="332.67" stroke="#222" stroke-width="0.7"/>
<line x1="334.80" y1="315.13" x2="337.80" y2="315.13" stroke="#222" stroke-width="0.7"/>
<circle cx="336.30" cy="301.98" r="0.9" fill="#111"/>
<circle cx="337.30" cy="320.61" r="0.9" fill="#111"/>
<circle cx="336.30" cy="344.72" r="0.9" fill="#111"/>
<rect x="345.00" y="325.00" width="7.80" height="26.30" fill="#C8102E"/>
<line x1="348.90" y1="315.68" x2="348.90" y2="334.31" stroke="#222" stroke-width="0.7"/>
<line x1="347.40" y1="315.68" x2="350.40" y2="315.68" stroke="#222" stroke-width="0.7"/>
<circle cx="348.90" cy="312.94" r="0.9" fill="#111"/>
<circle cx="349.90" cy="329.38" r="0.9" fill="#111"/>
<circle cx="348.90" cy="342.53" r="0.9" fill="#111"/>
<line x1="302.50" y1="351.80" x2="302.50" y2="294.00" stroke="#111" stroke-width="1.2"/>
<line x1="299.30" y1="351.30" x2="302.50" y2="351.30" stroke="#111" stroke-width="1.2"/>
<text x="296.70" y="353.46" font-size="6" text-anchor="end" fill="#2a2a2a" font-weight="normal" >0</text>
<line x1="299.30" y1="340.34" x2="302.50" y2="340.34" stroke="#111" stroke-width="1.2"/>
<text x="296.70" y="342.50" font-size="6" text-anchor="end" fill="#2a2a2a" font-weight="normal" >10</text>
<line x1="299.30" y1="329.38" x2="302.50" y2="329.38" stroke="#111" stroke-width="1.2"/>
<text x="296.70" y="331.54" font-size="6" text-anchor="end" fill="#2a2a2a" font-weight="normal" >20</text>
<line x1="299.30" y1="318.42" x2="302.50" y2="318.42" stroke="#111" stroke-width="1.2"/>
<text x="296.70" y="320.58" font-size="6" text-anchor="end" fill="#2a2a2a" font-weight="normal" >30</text>
<line x1="299.30" y1="307.46" x2="302.50" y2="307.46" stroke="#111" stroke-width="1.2"/>
<text x="296.70" y="309.62" font-size="6" text-anchor="end" fill="#2a2a2a" font-weight="normal" >40</text>
<line x1="299.30" y1="296.50" x2="302.50" y2="296.50" stroke="#111" stroke-width="1.2"/>
<text x="296.70" y="298.66" font-size="6" text-anchor="end" fill="#2a2a2a" font-weight="normal" >50</text>
<line x1="302.00" y1="351.30" x2="357.00" y2="351.30" stroke="#111" stroke-width="1.2"/>
<text x="330.00" y="277.60" font-size="8.5" text-anchor="middle" fill="#111" font-weight="normal" >CD107a</text>
<text transform="translate(280.60,321.50) rotate(-90)" x="0" y="2.70" font-size="7.5" text-anchor="middle" fill="#1e1e1e" font-weight="bold" textLength="24" lengthAdjust="spacingAndGlyphs">% of CD8</text>
<line x1="306.90" y1="356.00" x2="326.50" y2="356.00" stroke="#8a8a8a" stroke-width="0.9"/>
<line x1="332.30" y1="356.00" x2="353.00" y2="356.00" stroke="#8a8a8a" stroke-width="0.9"/>
<text x="317.30" y="363.00" font-size="6.2" text-anchor="middle" fill="#222" font-weight="normal" textLength="26.6" lengthAdjust="spacingAndGlyphs" >No restim.</text>
<text x="342.40" y="363.00" font-size="6.2" text-anchor="middle" fill="#222" font-weight="normal" textLength="19.6" lengthAdjust="spacingAndGlyphs" >Restim.</text>
<line x1="397.20" y1="351.70" x2="397.20" y2="282.50" stroke="#111" stroke-width="1.2"/>
<line x1="394.00" y1="351.20" x2="397.20" y2="351.20" stroke="#111" stroke-width="1.2"/>
<text x="391.40" y="353.36" font-size="6" text-anchor="end" fill="#2a2a2a" font-weight="normal" >0</text>
<line x1="394.00" y1="334.70" x2="397.20" y2="334.70" stroke="#111" stroke-width="1.2"/>
<text x="391.40" y="336.86" font-size="6" text-anchor="end" fill="#2a2a2a" font-weight="normal" >5</text>
<line x1="394.00" y1="318.20" x2="397.20" y2="318.20" stroke="#111" stroke-width="1.2"/>
<text x="391.40" y="320.36" font-size="6" text-anchor="end" fill="#2a2a2a" font-weight="normal" >10</text>
<line x1="394.00" y1="301.70" x2="397.20" y2="301.70" stroke="#111" stroke-width="1.2"/>
<text x="391.40" y="303.86" font-size="6" text-anchor="end" fill="#2a2a2a" font-weight="normal" >15</text>
<line x1="394.00" y1="285.20" x2="397.20" y2="285.20" stroke="#111" stroke-width="1.2"/>
<text x="391.40" y="287.36" font-size="6" text-anchor="end" fill="#2a2a2a" font-weight="normal" >20</text>
<line x1="396.70" y1="351.20" x2="463.30" y2="351.20" stroke="#111" stroke-width="1.2"/>
<line x1="407.10" y1="351.20" x2="407.10" y2="353.70" stroke="#111" stroke-width="1.2"/>
<text x="407.10" y="362.50" font-size="6" text-anchor="middle" fill="#2a2a2a" font-weight="normal" >5</text>
<line x1="430.80" y1="351.20" x2="430.80" y2="353.70" stroke="#111" stroke-width="1.2"/>
<text x="430.80" y="362.50" font-size="6" text-anchor="middle" fill="#2a2a2a" font-weight="normal" >10</text>
<line x1="454.20" y1="351.20" x2="454.20" y2="353.70" stroke="#111" stroke-width="1.2"/>
<text x="454.20" y="362.50" font-size="6" text-anchor="middle" fill="#2a2a2a" font-weight="normal" >15</text>
<line x1="407.10" y1="341.79" x2="407.10" y2="348.39" stroke="#5BBCE4" stroke-width="0.7"/>
<line x1="406.00" y1="341.79" x2="408.20" y2="341.79" stroke="#5BBCE4" stroke-width="0.7"/>
<line x1="406.00" y1="348.39" x2="408.20" y2="348.39" stroke="#5BBCE4" stroke-width="0.7"/>
<line x1="430.80" y1="336.02" x2="430.80" y2="341.30" stroke="#5BBCE4" stroke-width="0.7"/>
<line x1="429.70" y1="336.02" x2="431.90" y2="336.02" stroke="#5BBCE4" stroke-width="0.7"/>
<line x1="429.70" y1="341.30" x2="431.90" y2="341.30" stroke="#5BBCE4" stroke-width="0.7"/>
<line x1="454.20" y1="295.43" x2="454.20" y2="338.99" stroke="#5BBCE4" stroke-width="0.7"/>
<line x1="453.10" y1="295.43" x2="455.30" y2="295.43" stroke="#5BBCE4" stroke-width="0.7"/>
<line x1="453.10" y1="338.99" x2="455.30" y2="338.99" stroke="#5BBCE4" stroke-width="0.7"/>
<polyline points="407.10,345.09 430.80,338.66 454.20,317.21" fill="none" stroke="#5DBCE0" stroke-width="0.85"/>
<rect x="406.30" y="344.29" width="1.60" height="1.60" fill="#2E88AE"/>
<rect x="430.00" y="337.86" width="1.60" height="1.60" fill="#2E88AE"/>
<rect x="453.40" y="316.41" width="1.60" height="1.60" fill="#2E88AE"/>
<line x1="407.10" y1="345.43" x2="407.10" y2="348.06" stroke="#CC4467" stroke-width="0.7"/>
<line x1="406.00" y1="345.43" x2="408.20" y2="345.43" stroke="#CC4467" stroke-width="0.7"/>
<line x1="406.00" y1="348.06" x2="408.20" y2="348.06" stroke="#CC4467" stroke-width="0.7"/>
<line x1="430.80" y1="330.25" x2="430.80" y2="338.16" stroke="#CC4467" stroke-width="0.7"/>
<line x1="429.70" y1="330.25" x2="431.90" y2="330.25" stroke="#CC4467" stroke-width="0.7"/>
<line x1="429.70" y1="338.16" x2="431.90" y2="338.16" stroke="#CC4467" stroke-width="0.7"/>
<polyline points="407.10,346.75 430.80,334.20 454.20,348.39" fill="none" stroke="#B51F48" stroke-width="0.85"/>
<rect x="406.30" y="345.94" width="1.60" height="1.60" fill="#8A1434"/>
<rect x="430.00" y="333.40" width="1.60" height="1.60" fill="#8A1434"/>
<rect x="453.40" y="347.59" width="1.60" height="1.60" fill="#8A1434"/>
<polyline points="463.7,316.8 466.1,316.8 466.1,349.1 463.7,349.1" fill="none" stroke="#222" stroke-width="0.9"/>
<text x="471.40" y="336.64" font-size="5.6" text-anchor="middle" fill="#222" font-weight="bold">*</text>
<text x="405.10" y="289.70" font-size="6.1" text-anchor="start" fill="#3FAFDD" font-weight="normal" >HD</text>
<text x="405.10" y="296.90" font-size="6.1" text-anchor="start" fill="#B8193F" font-weight="normal" >CLL</text>
<text x="430.80" y="277.40" font-size="8.5" text-anchor="middle" fill="#111" font-weight="normal" textLength="23" lengthAdjust="spacingAndGlyphs" >T cells</text>
<text transform="translate(375.90,317.40) rotate(-90)" x="0" y="2.52" font-size="7" text-anchor="middle" fill="#1e1e1e" font-weight="bold" textLength="53" lengthAdjust="spacingAndGlyphs">Population doublings</text>
<text x="6.90" y="15.80" font-size="10.5" text-anchor="start" fill="#000" font-weight="bold" stroke="#000" stroke-width="0.35">A</text>
<text x="6.90" y="149.70" font-size="10.5" text-anchor="start" fill="#000" font-weight="bold" stroke="#000" stroke-width="0.35">B</text>
<text x="194.70" y="149.70" font-size="10.5" text-anchor="start" fill="#000" font-weight="bold" stroke="#000" stroke-width="0.35">C</text>
<text x="7.10" y="267.30" font-size="10.5" text-anchor="start" fill="#000" font-weight="bold" stroke="#000" stroke-width="0.35">D</text>
<text x="373.20" y="267.40" font-size="10.5" text-anchor="start" fill="#000" font-weight="bold" stroke="#000" stroke-width="0.35">E</text>
<rect x="0" y="0" width="520" height="1" fill="#404040"/><rect x="0" y="370" width="520" height="1" fill="#404040"/><rect x="519" y="0" width="1" height="371" fill="#404040"/><rect x="0" y="0" width="1" height="371" fill="#5a5a5a"/>
</svg>
</body></html>
